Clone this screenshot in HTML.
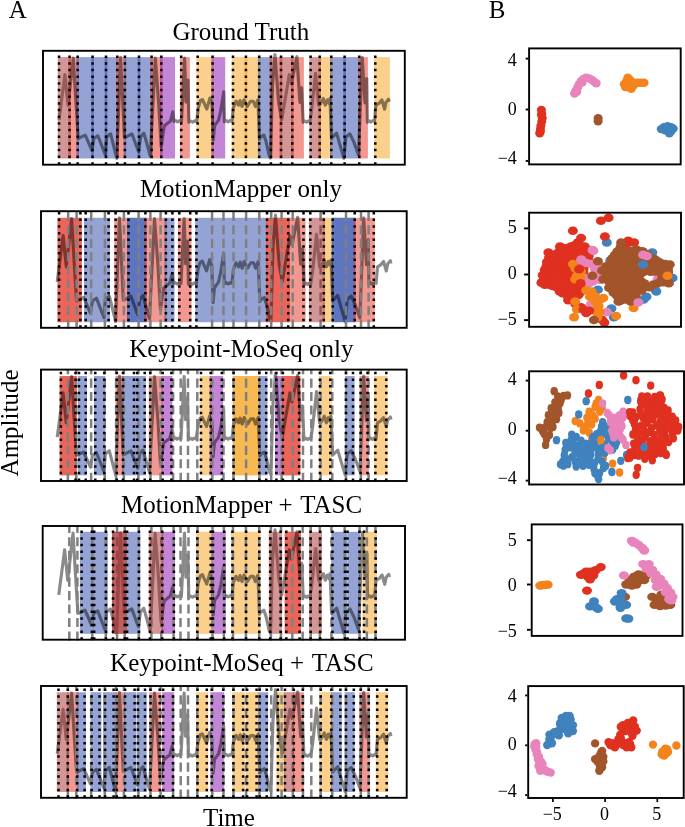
<!DOCTYPE html>
<html><head><meta charset="utf-8"><title>Figure</title><style>html,body{margin:0;padding:0;background:#fff}</style></head><body>
<svg width="685" height="827" viewBox="0 0 685 827" style="display:block;will-change:transform;font-family:'Liberation Serif',serif">
<rect width="685" height="827" fill="#fff"/>
<g>
<rect x="68.26" y="57.1" width="10.71" height="101.40" fill="#e63223" fill-opacity="0.5"/>
<rect x="76.37" y="57.1" width="17.49" height="101.40" fill="#2947a9" fill-opacity="0.5"/>
<rect x="91.26" y="57.1" width="16.04" height="101.40" fill="#2947a9" fill-opacity="0.5"/>
<rect x="104.70" y="57.1" width="13.90" height="101.40" fill="#2947a9" fill-opacity="0.5"/>
<rect x="116.00" y="57.1" width="10.20" height="101.40" fill="#e63223" fill-opacity="0.5"/>
<rect x="123.60" y="57.1" width="16.70" height="101.40" fill="#2947a9" fill-opacity="0.5"/>
<rect x="137.70" y="57.1" width="15.20" height="101.40" fill="#2947a9" fill-opacity="0.5"/>
<rect x="150.30" y="57.1" width="12.30" height="101.40" fill="#e63223" fill-opacity="0.5"/>
<rect x="160.00" y="57.1" width="15.00" height="101.40" fill="#870bad" fill-opacity="0.5"/>
<rect x="179.90" y="57.1" width="10.00" height="101.40" fill="#e63223" fill-opacity="0.5"/>
<rect x="196.40" y="57.1" width="17.50" height="101.40" fill="#f5a119" fill-opacity="0.5"/>
<rect x="211.30" y="57.1" width="13.90" height="101.40" fill="#870bad" fill-opacity="0.5"/>
<rect x="231.70" y="57.1" width="15.50" height="101.40" fill="#f5a119" fill-opacity="0.5"/>
<rect x="244.60" y="57.1" width="15.90" height="101.40" fill="#f5a119" fill-opacity="0.5"/>
<rect x="257.90" y="57.1" width="14.30" height="101.40" fill="#2947a9" fill-opacity="0.5"/>
<rect x="269.60" y="57.1" width="12.70" height="101.40" fill="#e63223" fill-opacity="0.5"/>
<rect x="291.00" y="57.1" width="12.90" height="101.40" fill="#e63223" fill-opacity="0.5"/>
<rect x="318.40" y="57.1" width="14.20" height="101.40" fill="#f5a119" fill-opacity="0.5"/>
<rect x="330.00" y="57.1" width="15.90" height="101.40" fill="#2947a9" fill-opacity="0.5"/>
<rect x="343.30" y="57.1" width="17.30" height="101.40" fill="#2947a9" fill-opacity="0.5"/>
<rect x="358.00" y="57.1" width="9.90" height="101.40" fill="#e63223" fill-opacity="0.5"/>
<rect x="374.00" y="57.1" width="15.90" height="101.40" fill="#f5a119" fill-opacity="0.5"/>
<polyline points="59.05,119.80 64.90,74.60 68.00,105.20 73.30,58.00 76.00,104.00 78.20,138.40 78.80,138.20 85.25,135.10 91.90,150.40 93.90,138.40 97.90,135.80 105.30,154.80 106.60,137.10 110.60,133.80 116.80,158.40 120.60,57.30 124.40,137.50 125.90,137.10 131.90,133.80 138.60,151.70 140.60,137.10 143.90,133.10 150.30,156.00 155.30,58.00 158.60,102.50 161.20,147.00 163.40,131.40 164.30,126.00 168.10,122.80 170.40,121.20 172.80,111.80 174.00,121.40 175.80,120.60 177.60,121.90 179.40,120.70 181.50,121.40 184.60,58.00 186.00,102.00 188.00,80.00 188.90,122.30 190.80,121.00 192.70,122.20 194.60,120.90 196.60,121.80 198.30,108.00 200.50,100.50 202.50,99.60 206.80,109.00 209.90,98.10 212.00,104.00 213.20,140.00 214.60,125.60 218.60,120.10 220.90,109.90 223.70,91.80 224.40,121.70 226.30,120.60 228.20,121.90 230.10,120.70 232.00,121.30 233.30,107.90 236.00,101.20 238.60,105.20 240.00,100.50 242.00,106.50 244.00,99.90 245.90,104.00 247.30,106.50 250.60,101.20 253.30,101.20 255.30,106.50 257.90,99.90 259.50,139.10 260.60,137.10 263.90,135.10 265.90,141.10 269.20,155.70 270.50,158.00 272.50,85.20 275.00,54.70 278.60,102.50 281.70,119.80 289.30,74.60 291.30,83.90 296.90,56.70 299.90,102.50 301.60,87.90 303.20,122.30 305.00,121.00 306.70,122.30 308.40,121.00 309.90,121.80 311.90,107.90 315.60,73.30 318.60,105.20 320.60,103.90 323.30,98.50 325.30,105.20 327.30,99.90 329.30,103.90 330.00,98.50 331.50,138.40 332.60,137.10 336.60,133.10 340.00,145.10 343.90,158.40 345.90,137.10 349.90,133.80 354.00,142.40 358.50,155.00 362.20,57.30 365.00,103.00 366.80,78.60 367.40,122.30 369.20,120.80 371.00,122.10 372.80,120.70 374.50,121.30 375.90,105.20 379.20,103.20 381.90,99.90 384.60,109.20 385.90,102.50 388.60,99.20 389.20,101.90" fill="none" stroke="#000" stroke-opacity="0.46" stroke-width="3.15" stroke-linejoin="round" stroke-linecap="butt"/>
<rect x="57.75" y="57.1" width="13.11" height="101.40" fill="#a72d2d" fill-opacity="0.5"/>
<rect x="279.70" y="57.1" width="13.90" height="101.40" fill="#a72d2d" fill-opacity="0.5"/>
<rect x="309.30" y="57.1" width="11.70" height="101.40" fill="#a72d2d" fill-opacity="0.5"/>
<line x1="59.05" y1="164.7" x2="59.05" y2="50.8" stroke="#000" stroke-width="2.5" stroke-dasharray="2.5 4.17"/>
<line x1="69.56" y1="164.7" x2="69.56" y2="50.8" stroke="#000" stroke-width="2.5" stroke-dasharray="2.5 4.17"/>
<line x1="77.67" y1="164.7" x2="77.67" y2="50.8" stroke="#000" stroke-width="2.5" stroke-dasharray="2.5 4.17"/>
<line x1="92.56" y1="164.7" x2="92.56" y2="50.8" stroke="#000" stroke-width="2.5" stroke-dasharray="2.5 4.17"/>
<line x1="106" y1="164.7" x2="106" y2="50.8" stroke="#000" stroke-width="2.5" stroke-dasharray="2.5 4.17"/>
<line x1="117.3" y1="164.7" x2="117.3" y2="50.8" stroke="#000" stroke-width="2.5" stroke-dasharray="2.5 4.17"/>
<line x1="124.9" y1="164.7" x2="124.9" y2="50.8" stroke="#000" stroke-width="2.5" stroke-dasharray="2.5 4.17"/>
<line x1="139" y1="164.7" x2="139" y2="50.8" stroke="#000" stroke-width="2.5" stroke-dasharray="2.5 4.17"/>
<line x1="151.6" y1="164.7" x2="151.6" y2="50.8" stroke="#000" stroke-width="2.5" stroke-dasharray="2.5 4.17"/>
<line x1="161.3" y1="164.7" x2="161.3" y2="50.8" stroke="#000" stroke-width="2.5" stroke-dasharray="2.5 4.17"/>
<line x1="181.2" y1="164.7" x2="181.2" y2="50.8" stroke="#000" stroke-width="2.5" stroke-dasharray="2.5 4.17"/>
<line x1="197.7" y1="164.7" x2="197.7" y2="50.8" stroke="#000" stroke-width="2.5" stroke-dasharray="2.5 4.17"/>
<line x1="212.6" y1="164.7" x2="212.6" y2="50.8" stroke="#000" stroke-width="2.5" stroke-dasharray="2.5 4.17"/>
<line x1="233" y1="164.7" x2="233" y2="50.8" stroke="#000" stroke-width="2.5" stroke-dasharray="2.5 4.17"/>
<line x1="245.9" y1="164.7" x2="245.9" y2="50.8" stroke="#000" stroke-width="2.5" stroke-dasharray="2.5 4.17"/>
<line x1="259.2" y1="164.7" x2="259.2" y2="50.8" stroke="#000" stroke-width="2.5" stroke-dasharray="2.5 4.17"/>
<line x1="270.9" y1="164.7" x2="270.9" y2="50.8" stroke="#000" stroke-width="2.5" stroke-dasharray="2.5 4.17"/>
<line x1="281" y1="164.7" x2="281" y2="50.8" stroke="#000" stroke-width="2.5" stroke-dasharray="2.5 4.17"/>
<line x1="292.3" y1="164.7" x2="292.3" y2="50.8" stroke="#000" stroke-width="2.5" stroke-dasharray="2.5 4.17"/>
<line x1="310.6" y1="164.7" x2="310.6" y2="50.8" stroke="#000" stroke-width="2.5" stroke-dasharray="2.5 4.17"/>
<line x1="319.7" y1="164.7" x2="319.7" y2="50.8" stroke="#000" stroke-width="2.5" stroke-dasharray="2.5 4.17"/>
<line x1="331.3" y1="164.7" x2="331.3" y2="50.8" stroke="#000" stroke-width="2.5" stroke-dasharray="2.5 4.17"/>
<line x1="344.6" y1="164.7" x2="344.6" y2="50.8" stroke="#000" stroke-width="2.5" stroke-dasharray="2.5 4.17"/>
<line x1="359.3" y1="164.7" x2="359.3" y2="50.8" stroke="#000" stroke-width="2.5" stroke-dasharray="2.5 4.17"/>
<line x1="375.3" y1="164.7" x2="375.3" y2="50.8" stroke="#000" stroke-width="2.5" stroke-dasharray="2.5 4.17"/>
<rect x="43" y="50.8" width="361.80" height="113.90" fill="none" stroke="#000" stroke-width="1.9"/>
</g>
<g>
<rect x="57.50" y="217.8" width="24.30" height="104.40" fill="#e63223" fill-opacity="0.5"/>
<rect x="57.50" y="217.8" width="24.30" height="104.40" fill="#e63223" fill-opacity="0.5"/>
<rect x="84.00" y="217.8" width="26.00" height="104.40" fill="#2947a9" fill-opacity="0.5"/>
<rect x="114.20" y="217.8" width="13.80" height="104.40" fill="#e63223" fill-opacity="0.5"/>
<rect x="127.30" y="217.8" width="19.20" height="104.40" fill="#2947a9" fill-opacity="0.5"/>
<rect x="127.30" y="217.8" width="19.20" height="104.40" fill="#2947a9" fill-opacity="0.5"/>
<rect x="144.50" y="217.8" width="22.00" height="104.40" fill="#e63223" fill-opacity="0.5"/>
<rect x="164.50" y="217.8" width="10.00" height="104.40" fill="#2947a9" fill-opacity="0.5"/>
<rect x="177.90" y="217.8" width="13.60" height="104.40" fill="#e63223" fill-opacity="0.5"/>
<rect x="195.20" y="217.8" width="71.30" height="104.40" fill="#2947a9" fill-opacity="0.5"/>
<rect x="266.00" y="217.8" width="23.60" height="104.40" fill="#e63223" fill-opacity="0.5"/>
<rect x="266.00" y="217.8" width="23.60" height="104.40" fill="#e63223" fill-opacity="0.5"/>
<rect x="288.50" y="217.8" width="17.10" height="104.40" fill="#e63223" fill-opacity="0.5"/>
<rect x="322.50" y="217.8" width="10.00" height="104.40" fill="#f5a119" fill-opacity="0.5"/>
<rect x="331.70" y="217.8" width="23.80" height="104.40" fill="#2947a9" fill-opacity="0.5"/>
<rect x="331.70" y="217.8" width="23.80" height="104.40" fill="#2947a9" fill-opacity="0.5"/>
<rect x="353.60" y="217.8" width="21.30" height="104.40" fill="#e63223" fill-opacity="0.5"/>
<polyline points="57.22,281.84 63.14,235.56 66.27,266.89 71.63,218.57 74.36,265.66 76.58,300.88 77.19,300.67 83.71,297.50 90.43,313.16 92.45,300.88 96.49,298.21 103.97,317.67 105.29,299.55 109.33,296.17 115.60,321.35 119.44,217.85 123.28,299.96 124.79,299.55 130.86,296.17 137.63,314.49 139.65,299.55 142.99,295.45 149.46,318.89 154.51,218.57 157.85,264.13 160.47,309.68 162.70,293.71 163.61,288.18 167.45,284.91 169.77,283.27 172.20,273.65 173.41,283.47 175.23,282.65 177.05,283.99 178.87,282.76 180.99,283.47 184.13,218.57 185.54,263.61 187.56,241.09 188.47,284.39 190.39,283.06 192.31,284.29 194.23,282.96 196.26,283.88 197.97,269.76 200.20,262.08 202.22,261.16 206.57,270.78 209.70,259.62 211.82,265.66 213.03,302.51 214.45,287.77 218.49,282.14 220.82,271.70 223.65,253.17 224.36,283.78 226.28,282.65 228.20,283.99 230.12,282.76 232.04,283.37 233.35,269.65 236.08,262.79 238.71,266.89 240.12,262.08 242.15,268.22 244.17,261.46 246.09,265.66 247.50,268.22 250.84,262.79 253.57,262.79 255.59,268.22 258.22,261.46 259.83,301.59 260.95,299.55 264.28,297.50 266.30,303.64 269.64,318.59 270.95,320.94 272.97,246.42 275.50,215.19 279.14,264.13 282.27,281.84 289.95,235.56 291.98,245.08 297.64,217.24 300.67,264.13 302.39,249.18 304.00,284.39 305.82,283.06 307.54,284.39 309.26,283.06 310.78,283.88 312.80,269.65 316.54,234.23 319.57,266.89 321.59,265.56 324.32,260.03 326.34,266.89 328.36,261.46 330.39,265.56 331.09,260.03 332.61,300.88 333.72,299.55 337.76,295.45 341.20,307.74 345.14,321.35 347.17,299.55 351.21,296.17 355.35,304.97 359.90,317.87 363.64,217.85 366.47,264.64 368.29,239.66 368.90,284.39 370.72,282.86 372.54,284.19 374.36,282.76 376.07,283.37 377.49,266.89 380.82,264.84 383.55,261.46 386.28,270.98 387.60,264.13 390.33,260.75 390.93,263.51" fill="none" stroke="#000" stroke-opacity="0.46" stroke-width="3.15" stroke-linejoin="round" stroke-linecap="butt"/>
<line x1="68.2" y1="328.60" x2="68.2" y2="211.2" stroke="#808080" stroke-width="2.5" stroke-dasharray="9.1 4.35"/>
<line x1="76.6" y1="328.60" x2="76.6" y2="211.2" stroke="#808080" stroke-width="2.5" stroke-dasharray="9.1 4.35"/>
<line x1="91.2" y1="328.60" x2="91.2" y2="211.2" stroke="#808080" stroke-width="2.5" stroke-dasharray="9.1 4.35"/>
<line x1="104.9" y1="328.60" x2="104.9" y2="211.2" stroke="#808080" stroke-width="2.5" stroke-dasharray="9.1 4.35"/>
<line x1="123.9" y1="328.60" x2="123.9" y2="211.2" stroke="#808080" stroke-width="2.5" stroke-dasharray="9.1 4.35"/>
<line x1="138.6" y1="328.60" x2="138.6" y2="211.2" stroke="#808080" stroke-width="2.5" stroke-dasharray="9.1 4.35"/>
<line x1="150.4" y1="328.60" x2="150.4" y2="211.2" stroke="#808080" stroke-width="2.5" stroke-dasharray="9.1 4.35"/>
<line x1="160.6" y1="328.60" x2="160.6" y2="211.2" stroke="#808080" stroke-width="2.5" stroke-dasharray="9.1 4.35"/>
<line x1="212.1" y1="328.60" x2="212.1" y2="211.2" stroke="#808080" stroke-width="2.5" stroke-dasharray="9.1 4.35"/>
<line x1="223.5" y1="328.60" x2="223.5" y2="211.2" stroke="#808080" stroke-width="2.5" stroke-dasharray="9.1 4.35"/>
<line x1="233.5" y1="328.60" x2="233.5" y2="211.2" stroke="#808080" stroke-width="2.5" stroke-dasharray="9.1 4.35"/>
<line x1="246.1" y1="328.60" x2="246.1" y2="211.2" stroke="#808080" stroke-width="2.5" stroke-dasharray="9.1 4.35"/>
<line x1="259.3" y1="328.60" x2="259.3" y2="211.2" stroke="#808080" stroke-width="2.5" stroke-dasharray="9.1 4.35"/>
<line x1="271.2" y1="328.60" x2="271.2" y2="211.2" stroke="#808080" stroke-width="2.5" stroke-dasharray="9.1 4.35"/>
<line x1="281.6" y1="328.60" x2="281.6" y2="211.2" stroke="#808080" stroke-width="2.5" stroke-dasharray="9.1 4.35"/>
<line x1="292.7" y1="328.60" x2="292.7" y2="211.2" stroke="#808080" stroke-width="2.5" stroke-dasharray="9.1 4.35"/>
<line x1="320.6" y1="328.60" x2="320.6" y2="211.2" stroke="#808080" stroke-width="2.5" stroke-dasharray="9.1 4.35"/>
<line x1="346" y1="328.60" x2="346" y2="211.2" stroke="#808080" stroke-width="2.5" stroke-dasharray="9.1 4.35"/>
<line x1="361" y1="328.60" x2="361" y2="211.2" stroke="#808080" stroke-width="2.5" stroke-dasharray="9.1 4.35"/>
<line x1="368.6" y1="328.60" x2="368.6" y2="211.2" stroke="#808080" stroke-width="2.5" stroke-dasharray="9.1 4.35"/>
<rect x="308.80" y="217.8" width="16.20" height="104.40" fill="#a72d2d" fill-opacity="0.5"/>
<line x1="59.1" y1="327.8" x2="59.1" y2="211.2" stroke="#000" stroke-width="2.5" stroke-dasharray="2.5 4.17"/>
<line x1="80.4" y1="327.8" x2="80.4" y2="211.2" stroke="#000" stroke-width="2.5" stroke-dasharray="2.5 4.17"/>
<line x1="85.7" y1="327.8" x2="85.7" y2="211.2" stroke="#000" stroke-width="2.5" stroke-dasharray="2.5 4.17"/>
<line x1="108.6" y1="327.8" x2="108.6" y2="211.2" stroke="#000" stroke-width="2.5" stroke-dasharray="2.5 4.17"/>
<line x1="115.6" y1="327.8" x2="115.6" y2="211.2" stroke="#000" stroke-width="2.5" stroke-dasharray="2.5 4.17"/>
<line x1="128.5" y1="327.8" x2="128.5" y2="211.2" stroke="#000" stroke-width="2.5" stroke-dasharray="2.5 4.17"/>
<line x1="145.4" y1="327.8" x2="145.4" y2="211.2" stroke="#000" stroke-width="2.5" stroke-dasharray="2.5 4.17"/>
<line x1="165.9" y1="327.8" x2="165.9" y2="211.2" stroke="#000" stroke-width="2.5" stroke-dasharray="2.5 4.17"/>
<line x1="172.4" y1="327.8" x2="172.4" y2="211.2" stroke="#000" stroke-width="2.5" stroke-dasharray="2.5 4.17"/>
<line x1="179.3" y1="327.8" x2="179.3" y2="211.2" stroke="#000" stroke-width="2.5" stroke-dasharray="2.5 4.17"/>
<line x1="190.2" y1="327.8" x2="190.2" y2="211.2" stroke="#000" stroke-width="2.5" stroke-dasharray="2.5 4.17"/>
<line x1="196.4" y1="327.8" x2="196.4" y2="211.2" stroke="#000" stroke-width="2.5" stroke-dasharray="2.5 4.17"/>
<line x1="267" y1="327.8" x2="267" y2="211.2" stroke="#000" stroke-width="2.5" stroke-dasharray="2.5 4.17"/>
<line x1="288.2" y1="327.8" x2="288.2" y2="211.2" stroke="#000" stroke-width="2.5" stroke-dasharray="2.5 4.17"/>
<line x1="303.5" y1="327.8" x2="303.5" y2="211.2" stroke="#000" stroke-width="2.5" stroke-dasharray="2.5 4.17"/>
<line x1="310.3" y1="327.8" x2="310.3" y2="211.2" stroke="#000" stroke-width="2.5" stroke-dasharray="2.5 4.17"/>
<line x1="323.8" y1="327.8" x2="323.8" y2="211.2" stroke="#000" stroke-width="2.5" stroke-dasharray="2.5 4.17"/>
<line x1="332.7" y1="327.8" x2="332.7" y2="211.2" stroke="#000" stroke-width="2.5" stroke-dasharray="2.5 4.17"/>
<line x1="354.7" y1="327.8" x2="354.7" y2="211.2" stroke="#000" stroke-width="2.5" stroke-dasharray="2.5 4.17"/>
<line x1="373.8" y1="327.8" x2="373.8" y2="211.2" stroke="#000" stroke-width="2.5" stroke-dasharray="2.5 4.17"/>
<rect x="41" y="211.2" width="365.70" height="116.60" fill="none" stroke="#000" stroke-width="1.9"/>
</g>
<g>
<rect x="59.60" y="376" width="17.30" height="99.30" fill="#e63223" fill-opacity="0.5"/>
<rect x="59.60" y="376" width="17.30" height="99.30" fill="#e63223" fill-opacity="0.5"/>
<rect x="77.90" y="376" width="9.10" height="99.30" fill="#2947a9" fill-opacity="0.5"/>
<rect x="93.90" y="376" width="11.50" height="99.30" fill="#2947a9" fill-opacity="0.5"/>
<rect x="115.40" y="376" width="8.40" height="99.30" fill="#e63223" fill-opacity="0.5"/>
<rect x="122.00" y="376" width="23.80" height="99.30" fill="#2947a9" fill-opacity="0.5"/>
<rect x="148.80" y="376" width="13.70" height="99.30" fill="#e63223" fill-opacity="0.5"/>
<rect x="161.50" y="376" width="10.90" height="99.30" fill="#870bad" fill-opacity="0.5"/>
<rect x="199.90" y="376" width="11.60" height="99.30" fill="#f5a119" fill-opacity="0.5"/>
<rect x="209.70" y="376" width="13.50" height="99.30" fill="#870bad" fill-opacity="0.5"/>
<rect x="232.70" y="376" width="26.80" height="99.30" fill="#f5a119" fill-opacity="0.5"/>
<rect x="232.70" y="376" width="26.80" height="99.30" fill="#f5a119" fill-opacity="0.5"/>
<rect x="258.80" y="376" width="8.60" height="99.30" fill="#2947a9" fill-opacity="0.5"/>
<rect x="275.00" y="376" width="8.00" height="99.30" fill="#870bad" fill-opacity="0.5"/>
<rect x="282.00" y="376" width="18.40" height="99.30" fill="#e63223" fill-opacity="0.5"/>
<rect x="282.00" y="376" width="18.40" height="99.30" fill="#e63223" fill-opacity="0.5"/>
<rect x="318.80" y="376" width="12.90" height="99.30" fill="#f5a119" fill-opacity="0.5"/>
<rect x="344.90" y="376" width="9.70" height="99.30" fill="#2947a9" fill-opacity="0.5"/>
<rect x="359.60" y="376" width="9.30" height="99.30" fill="#e63223" fill-opacity="0.5"/>
<rect x="374.00" y="376" width="13.70" height="99.30" fill="#f5a119" fill-opacity="0.5"/>
<polyline points="57.22,437.09 63.14,392.88 66.27,422.81 71.63,376.64 74.36,421.63 76.58,455.28 77.19,455.08 83.71,452.05 90.43,467.01 92.45,455.28 96.49,452.73 103.97,471.32 105.29,454.01 109.33,450.78 115.60,474.84 119.44,375.96 123.28,454.40 124.79,454.01 130.86,450.78 137.63,468.29 139.65,454.01 142.99,450.09 149.46,472.49 154.51,376.64 157.85,420.17 160.47,463.69 162.70,448.43 163.61,443.15 167.45,440.02 169.77,438.45 172.20,429.26 173.41,438.65 175.23,437.87 177.05,439.14 178.87,437.97 180.99,438.65 184.13,376.64 185.54,419.68 187.56,398.16 188.47,439.53 190.39,438.26 192.31,439.43 194.23,438.16 196.26,439.04 197.97,425.54 200.20,418.21 202.22,417.33 206.57,426.52 209.70,415.86 211.82,421.63 213.03,456.84 214.45,442.76 218.49,437.38 220.82,427.40 223.65,409.70 224.36,438.94 226.28,437.87 228.20,439.14 230.12,437.97 232.04,438.55 233.35,425.45 236.08,418.89 238.71,422.81 240.12,418.21 242.15,424.08 244.17,417.62 246.09,421.63 247.50,424.08 250.84,418.89 253.57,418.89 255.59,424.08 258.22,417.62 259.83,455.96 260.95,454.01 264.28,452.05 266.30,457.92 269.64,472.20 270.95,474.45 272.97,403.24 275.50,373.41 279.14,420.17 282.27,437.09 289.95,392.88 291.98,401.97 297.64,375.37 300.67,420.17 302.39,405.89 304.00,439.53 305.82,438.26 307.54,439.53 309.26,438.26 310.78,439.04 312.80,425.45 316.54,391.61 319.57,422.81 321.59,421.53 324.32,416.25 326.34,422.81 328.36,417.62 330.39,421.53 331.09,416.25 332.61,455.28 333.72,454.01 337.76,450.09 341.20,461.83 345.14,474.84 347.17,454.01 351.21,450.78 355.35,459.19 359.90,471.51 363.64,375.96 366.47,420.65 368.29,396.79 368.90,439.53 370.72,438.06 372.54,439.34 374.36,437.97 376.07,438.55 377.49,422.81 380.82,420.85 383.55,417.62 386.28,426.72 387.60,420.17 390.33,416.94 390.93,419.58" fill="none" stroke="#000" stroke-opacity="0.46" stroke-width="3.15" stroke-linejoin="round" stroke-linecap="butt"/>
<line x1="67.85" y1="481.80" x2="67.85" y2="369.6" stroke="#808080" stroke-width="2.5" stroke-dasharray="9.1 4.35"/>
<line x1="76.3" y1="481.80" x2="76.3" y2="369.6" stroke="#808080" stroke-width="2.5" stroke-dasharray="9.1 4.35"/>
<line x1="91.15" y1="481.80" x2="91.15" y2="369.6" stroke="#808080" stroke-width="2.5" stroke-dasharray="9.1 4.35"/>
<line x1="104.8" y1="481.80" x2="104.8" y2="369.6" stroke="#808080" stroke-width="2.5" stroke-dasharray="9.1 4.35"/>
<line x1="116.1" y1="481.80" x2="116.1" y2="369.6" stroke="#808080" stroke-width="2.5" stroke-dasharray="9.1 4.35"/>
<line x1="123.85" y1="481.80" x2="123.85" y2="369.6" stroke="#808080" stroke-width="2.5" stroke-dasharray="9.1 4.35"/>
<line x1="138.4" y1="481.80" x2="138.4" y2="369.6" stroke="#808080" stroke-width="2.5" stroke-dasharray="9.1 4.35"/>
<line x1="150.5" y1="481.80" x2="150.5" y2="369.6" stroke="#808080" stroke-width="2.5" stroke-dasharray="9.1 4.35"/>
<line x1="160.6" y1="481.80" x2="160.6" y2="369.6" stroke="#808080" stroke-width="2.5" stroke-dasharray="9.1 4.35"/>
<line x1="173.1" y1="481.80" x2="173.1" y2="369.6" stroke="#808080" stroke-width="2.5" stroke-dasharray="9.1 4.35"/>
<line x1="180.7" y1="481.80" x2="180.7" y2="369.6" stroke="#808080" stroke-width="2.5" stroke-dasharray="9.1 4.35"/>
<line x1="188" y1="481.80" x2="188" y2="369.6" stroke="#808080" stroke-width="2.5" stroke-dasharray="9.1 4.35"/>
<line x1="197.3" y1="481.80" x2="197.3" y2="369.6" stroke="#808080" stroke-width="2.5" stroke-dasharray="9.1 4.35"/>
<line x1="212.3" y1="481.80" x2="212.3" y2="369.6" stroke="#808080" stroke-width="2.5" stroke-dasharray="9.1 4.35"/>
<line x1="223.5" y1="481.80" x2="223.5" y2="369.6" stroke="#808080" stroke-width="2.5" stroke-dasharray="9.1 4.35"/>
<line x1="233.5" y1="481.80" x2="233.5" y2="369.6" stroke="#808080" stroke-width="2.5" stroke-dasharray="9.1 4.35"/>
<line x1="246.1" y1="481.80" x2="246.1" y2="369.6" stroke="#808080" stroke-width="2.5" stroke-dasharray="9.1 4.35"/>
<line x1="259.4" y1="481.80" x2="259.4" y2="369.6" stroke="#808080" stroke-width="2.5" stroke-dasharray="9.1 4.35"/>
<line x1="271.2" y1="481.80" x2="271.2" y2="369.6" stroke="#808080" stroke-width="2.5" stroke-dasharray="9.1 4.35"/>
<line x1="281.6" y1="481.80" x2="281.6" y2="369.6" stroke="#808080" stroke-width="2.5" stroke-dasharray="9.1 4.35"/>
<line x1="292.8" y1="481.80" x2="292.8" y2="369.6" stroke="#808080" stroke-width="2.5" stroke-dasharray="9.1 4.35"/>
<line x1="303" y1="481.80" x2="303" y2="369.6" stroke="#808080" stroke-width="2.5" stroke-dasharray="9.1 4.35"/>
<line x1="311.3" y1="481.80" x2="311.3" y2="369.6" stroke="#808080" stroke-width="2.5" stroke-dasharray="9.1 4.35"/>
<line x1="320.65" y1="481.80" x2="320.65" y2="369.6" stroke="#808080" stroke-width="2.5" stroke-dasharray="9.1 4.35"/>
<line x1="332.3" y1="481.80" x2="332.3" y2="369.6" stroke="#808080" stroke-width="2.5" stroke-dasharray="9.1 4.35"/>
<line x1="345.95" y1="481.80" x2="345.95" y2="369.6" stroke="#808080" stroke-width="2.5" stroke-dasharray="9.1 4.35"/>
<line x1="360.9" y1="481.80" x2="360.9" y2="369.6" stroke="#808080" stroke-width="2.5" stroke-dasharray="9.1 4.35"/>
<line x1="368.6" y1="481.80" x2="368.6" y2="369.6" stroke="#808080" stroke-width="2.5" stroke-dasharray="9.1 4.35"/>
<line x1="60.9" y1="481" x2="60.9" y2="369.6" stroke="#000" stroke-width="2.5" stroke-dasharray="2.5 4.17"/>
<line x1="75.5" y1="481" x2="75.5" y2="369.6" stroke="#000" stroke-width="2.5" stroke-dasharray="2.5 4.17"/>
<line x1="79" y1="481" x2="79" y2="369.6" stroke="#000" stroke-width="2.5" stroke-dasharray="2.5 4.17"/>
<line x1="85.7" y1="481" x2="85.7" y2="369.6" stroke="#000" stroke-width="2.5" stroke-dasharray="2.5 4.17"/>
<line x1="95.3" y1="481" x2="95.3" y2="369.6" stroke="#000" stroke-width="2.5" stroke-dasharray="2.5 4.17"/>
<line x1="104.3" y1="481" x2="104.3" y2="369.6" stroke="#000" stroke-width="2.5" stroke-dasharray="2.5 4.17"/>
<line x1="116.8" y1="481" x2="116.8" y2="369.6" stroke="#000" stroke-width="2.5" stroke-dasharray="2.5 4.17"/>
<line x1="123" y1="481" x2="123" y2="369.6" stroke="#000" stroke-width="2.5" stroke-dasharray="2.5 4.17"/>
<line x1="134" y1="481" x2="134" y2="369.6" stroke="#000" stroke-width="2.5" stroke-dasharray="2.5 4.17"/>
<line x1="137.2" y1="481" x2="137.2" y2="369.6" stroke="#000" stroke-width="2.5" stroke-dasharray="2.5 4.17"/>
<line x1="144.7" y1="481" x2="144.7" y2="369.6" stroke="#000" stroke-width="2.5" stroke-dasharray="2.5 4.17"/>
<line x1="150.2" y1="481" x2="150.2" y2="369.6" stroke="#000" stroke-width="2.5" stroke-dasharray="2.5 4.17"/>
<line x1="162.7" y1="481" x2="162.7" y2="369.6" stroke="#000" stroke-width="2.5" stroke-dasharray="2.5 4.17"/>
<line x1="171.4" y1="481" x2="171.4" y2="369.6" stroke="#000" stroke-width="2.5" stroke-dasharray="2.5 4.17"/>
<line x1="201" y1="481" x2="201" y2="369.6" stroke="#000" stroke-width="2.5" stroke-dasharray="2.5 4.17"/>
<line x1="210.7" y1="481" x2="210.7" y2="369.6" stroke="#000" stroke-width="2.5" stroke-dasharray="2.5 4.17"/>
<line x1="221.8" y1="481" x2="221.8" y2="369.6" stroke="#000" stroke-width="2.5" stroke-dasharray="2.5 4.17"/>
<line x1="233.6" y1="481" x2="233.6" y2="369.6" stroke="#000" stroke-width="2.5" stroke-dasharray="2.5 4.17"/>
<line x1="259.3" y1="481" x2="259.3" y2="369.6" stroke="#000" stroke-width="2.5" stroke-dasharray="2.5 4.17"/>
<line x1="266.2" y1="481" x2="266.2" y2="369.6" stroke="#000" stroke-width="2.5" stroke-dasharray="2.5 4.17"/>
<line x1="276.4" y1="481" x2="276.4" y2="369.6" stroke="#000" stroke-width="2.5" stroke-dasharray="2.5 4.17"/>
<line x1="282.9" y1="481" x2="282.9" y2="369.6" stroke="#000" stroke-width="2.5" stroke-dasharray="2.5 4.17"/>
<line x1="299.1" y1="481" x2="299.1" y2="369.6" stroke="#000" stroke-width="2.5" stroke-dasharray="2.5 4.17"/>
<line x1="319.9" y1="481" x2="319.9" y2="369.6" stroke="#000" stroke-width="2.5" stroke-dasharray="2.5 4.17"/>
<line x1="330.3" y1="481" x2="330.3" y2="369.6" stroke="#000" stroke-width="2.5" stroke-dasharray="2.5 4.17"/>
<line x1="346" y1="481" x2="346" y2="369.6" stroke="#000" stroke-width="2.5" stroke-dasharray="2.5 4.17"/>
<line x1="353" y1="481" x2="353" y2="369.6" stroke="#000" stroke-width="2.5" stroke-dasharray="2.5 4.17"/>
<line x1="360.6" y1="481" x2="360.6" y2="369.6" stroke="#000" stroke-width="2.5" stroke-dasharray="2.5 4.17"/>
<line x1="367.5" y1="481" x2="367.5" y2="369.6" stroke="#000" stroke-width="2.5" stroke-dasharray="2.5 4.17"/>
<line x1="375.4" y1="481" x2="375.4" y2="369.6" stroke="#000" stroke-width="2.5" stroke-dasharray="2.5 4.17"/>
<line x1="386.3" y1="481" x2="386.3" y2="369.6" stroke="#000" stroke-width="2.5" stroke-dasharray="2.5 4.17"/>
<rect x="41" y="369.6" width="365.70" height="111.40" fill="none" stroke="#000" stroke-width="1.9"/>
</g>
<g>
<rect x="79.90" y="531.8" width="13.30" height="102.00" fill="#2947a9" fill-opacity="0.5"/>
<rect x="92.80" y="531.8" width="15.00" height="102.00" fill="#2947a9" fill-opacity="0.5"/>
<rect x="126.00" y="531.8" width="14.40" height="102.00" fill="#2947a9" fill-opacity="0.5"/>
<rect x="161.50" y="531.8" width="13.50" height="102.00" fill="#870bad" fill-opacity="0.5"/>
<rect x="195.90" y="531.8" width="16.60" height="102.00" fill="#f5a119" fill-opacity="0.5"/>
<rect x="211.30" y="531.8" width="14.60" height="102.00" fill="#870bad" fill-opacity="0.5"/>
<rect x="231.00" y="531.8" width="15.80" height="102.00" fill="#f5a119" fill-opacity="0.5"/>
<rect x="245.40" y="531.8" width="15.30" height="102.00" fill="#f5a119" fill-opacity="0.5"/>
<rect x="284.70" y="531.8" width="16.30" height="102.00" fill="#e63223" fill-opacity="0.5"/>
<rect x="284.70" y="531.8" width="16.30" height="102.00" fill="#e63223" fill-opacity="0.5"/>
<rect x="331.20" y="531.8" width="15.80" height="102.00" fill="#2947a9" fill-opacity="0.5"/>
<rect x="347.30" y="531.8" width="12.90" height="102.00" fill="#2947a9" fill-opacity="0.5"/>
<rect x="362.50" y="531.8" width="14.40" height="102.00" fill="#f5a119" fill-opacity="0.5"/>
<polyline points="58.77,594.88 64.63,549.76 67.73,580.30 73.04,533.19 75.75,579.11 77.95,613.45 78.55,613.25 85.01,610.15 91.67,625.43 93.67,613.45 97.68,610.85 105.09,629.82 106.39,612.15 110.39,608.85 116.60,633.41 120.41,532.49 124.21,612.55 125.71,612.15 131.72,608.85 138.43,626.72 140.43,612.15 143.74,608.16 150.15,631.02 155.16,533.19 158.46,577.61 161.06,622.03 163.27,606.46 164.17,601.07 167.97,597.87 170.28,596.28 172.68,586.89 173.88,596.48 175.68,595.68 177.49,596.98 179.29,595.78 181.39,596.48 184.50,533.19 185.90,577.11 187.90,555.15 188.80,597.37 190.70,596.08 192.61,597.27 194.51,595.98 196.51,596.88 198.21,583.10 200.42,575.61 202.42,574.71 206.73,584.10 209.83,573.22 211.93,579.11 213.14,615.04 214.54,600.67 218.54,595.18 220.85,585.00 223.65,566.93 224.35,596.78 226.25,595.68 228.16,596.98 230.06,595.78 231.96,596.38 233.26,583.00 235.97,576.31 238.57,580.30 239.97,575.61 241.98,581.60 243.98,575.01 245.88,579.11 247.28,581.60 250.59,576.31 253.29,576.31 255.29,581.60 257.90,575.01 259.50,614.14 260.60,612.15 263.91,610.15 265.91,616.14 269.21,630.72 270.51,633.01 272.52,560.34 275.02,529.89 278.63,577.61 281.73,594.88 289.34,549.76 291.34,559.04 296.95,531.89 299.96,577.61 301.66,563.03 303.26,597.37 305.06,596.08 306.76,597.37 308.47,596.08 309.97,596.88 311.97,583.00 315.68,548.46 318.68,580.30 320.68,579.01 323.39,573.62 325.39,580.30 327.39,575.01 329.40,579.01 330.10,573.62 331.60,613.45 332.70,612.15 336.71,608.16 340.11,620.13 344.02,633.41 346.02,612.15 350.02,608.85 354.13,617.44 358.64,630.02 362.34,532.49 365.14,578.11 366.95,553.75 367.55,597.37 369.35,595.88 371.15,597.17 372.96,595.78 374.66,596.38 376.06,580.30 379.36,578.31 382.07,575.01 384.77,584.30 386.07,577.61 388.78,574.32 389.38,577.01" fill="none" stroke="#000" stroke-opacity="0.46" stroke-width="3.15" stroke-linejoin="round" stroke-linecap="butt"/>
<line x1="69.3" y1="640.50" x2="69.3" y2="526" stroke="#808080" stroke-width="2.5" stroke-dasharray="9.1 4.35"/>
<line x1="77.4" y1="640.50" x2="77.4" y2="526" stroke="#808080" stroke-width="2.5" stroke-dasharray="9.1 4.35"/>
<line x1="92.3" y1="640.50" x2="92.3" y2="526" stroke="#808080" stroke-width="2.5" stroke-dasharray="9.1 4.35"/>
<line x1="105.8" y1="640.50" x2="105.8" y2="526" stroke="#808080" stroke-width="2.5" stroke-dasharray="9.1 4.35"/>
<line x1="117.1" y1="640.50" x2="117.1" y2="526" stroke="#808080" stroke-width="2.5" stroke-dasharray="9.1 4.35"/>
<line x1="124.7" y1="640.50" x2="124.7" y2="526" stroke="#808080" stroke-width="2.5" stroke-dasharray="9.1 4.35"/>
<line x1="138.8" y1="640.50" x2="138.8" y2="526" stroke="#808080" stroke-width="2.5" stroke-dasharray="9.1 4.35"/>
<line x1="151.4" y1="640.50" x2="151.4" y2="526" stroke="#808080" stroke-width="2.5" stroke-dasharray="9.1 4.35"/>
<line x1="161.2" y1="640.50" x2="161.2" y2="526" stroke="#808080" stroke-width="2.5" stroke-dasharray="9.1 4.35"/>
<line x1="173.6" y1="640.50" x2="173.6" y2="526" stroke="#808080" stroke-width="2.5" stroke-dasharray="9.1 4.35"/>
<line x1="180.5" y1="640.50" x2="180.5" y2="526" stroke="#808080" stroke-width="2.5" stroke-dasharray="9.1 4.35"/>
<line x1="188.5" y1="640.50" x2="188.5" y2="526" stroke="#808080" stroke-width="2.5" stroke-dasharray="9.1 4.35"/>
<line x1="197.6" y1="640.50" x2="197.6" y2="526" stroke="#808080" stroke-width="2.5" stroke-dasharray="9.1 4.35"/>
<line x1="212.5" y1="640.50" x2="212.5" y2="526" stroke="#808080" stroke-width="2.5" stroke-dasharray="9.1 4.35"/>
<line x1="223.85" y1="640.50" x2="223.85" y2="526" stroke="#808080" stroke-width="2.5" stroke-dasharray="9.1 4.35"/>
<line x1="233" y1="640.50" x2="233" y2="526" stroke="#808080" stroke-width="2.5" stroke-dasharray="9.1 4.35"/>
<line x1="245.9" y1="640.50" x2="245.9" y2="526" stroke="#808080" stroke-width="2.5" stroke-dasharray="9.1 4.35"/>
<line x1="259.2" y1="640.50" x2="259.2" y2="526" stroke="#808080" stroke-width="2.5" stroke-dasharray="9.1 4.35"/>
<line x1="270.9" y1="640.50" x2="270.9" y2="526" stroke="#808080" stroke-width="2.5" stroke-dasharray="9.1 4.35"/>
<line x1="281" y1="640.50" x2="281" y2="526" stroke="#808080" stroke-width="2.5" stroke-dasharray="9.1 4.35"/>
<line x1="292.35" y1="640.50" x2="292.35" y2="526" stroke="#808080" stroke-width="2.5" stroke-dasharray="9.1 4.35"/>
<line x1="302.65" y1="640.50" x2="302.65" y2="526" stroke="#808080" stroke-width="2.5" stroke-dasharray="9.1 4.35"/>
<line x1="310.7" y1="640.50" x2="310.7" y2="526" stroke="#808080" stroke-width="2.5" stroke-dasharray="9.1 4.35"/>
<line x1="319.8" y1="640.50" x2="319.8" y2="526" stroke="#808080" stroke-width="2.5" stroke-dasharray="9.1 4.35"/>
<line x1="331.4" y1="640.50" x2="331.4" y2="526" stroke="#808080" stroke-width="2.5" stroke-dasharray="9.1 4.35"/>
<line x1="344.7" y1="640.50" x2="344.7" y2="526" stroke="#808080" stroke-width="2.5" stroke-dasharray="9.1 4.35"/>
<line x1="359.6" y1="640.50" x2="359.6" y2="526" stroke="#808080" stroke-width="2.5" stroke-dasharray="9.1 4.35"/>
<line x1="366.9" y1="640.50" x2="366.9" y2="526" stroke="#808080" stroke-width="2.5" stroke-dasharray="9.1 4.35"/>
<line x1="375.5" y1="640.50" x2="375.5" y2="526" stroke="#808080" stroke-width="2.5" stroke-dasharray="9.1 4.35"/>
<rect x="112.00" y="531.8" width="14.60" height="102.00" fill="#a72d2d" fill-opacity="0.5"/>
<rect x="112.00" y="531.8" width="14.60" height="102.00" fill="#a72d2d" fill-opacity="0.5"/>
<rect x="148.80" y="531.8" width="14.50" height="102.00" fill="#a72d2d" fill-opacity="0.5"/>
<rect x="268.80" y="531.8" width="13.10" height="102.00" fill="#a72d2d" fill-opacity="0.5"/>
<rect x="309.10" y="531.8" width="12.90" height="102.00" fill="#a72d2d" fill-opacity="0.5"/>
<line x1="81.6" y1="639.7" x2="81.6" y2="526" stroke="#000" stroke-width="2.5" stroke-dasharray="2.5 4.17"/>
<line x1="91.9" y1="639.7" x2="91.9" y2="526" stroke="#000" stroke-width="2.5" stroke-dasharray="2.5 4.17"/>
<line x1="94.2" y1="639.7" x2="94.2" y2="526" stroke="#000" stroke-width="2.5" stroke-dasharray="2.5 4.17"/>
<line x1="105.9" y1="639.7" x2="105.9" y2="526" stroke="#000" stroke-width="2.5" stroke-dasharray="2.5 4.17"/>
<line x1="113" y1="639.7" x2="113" y2="526" stroke="#000" stroke-width="2.5" stroke-dasharray="2.5 4.17"/>
<line x1="124.8" y1="639.7" x2="124.8" y2="526" stroke="#000" stroke-width="2.5" stroke-dasharray="2.5 4.17"/>
<line x1="127.1" y1="639.7" x2="127.1" y2="526" stroke="#000" stroke-width="2.5" stroke-dasharray="2.5 4.17"/>
<line x1="138.9" y1="639.7" x2="138.9" y2="526" stroke="#000" stroke-width="2.5" stroke-dasharray="2.5 4.17"/>
<line x1="149.9" y1="639.7" x2="149.9" y2="526" stroke="#000" stroke-width="2.5" stroke-dasharray="2.5 4.17"/>
<line x1="162.3" y1="639.7" x2="162.3" y2="526" stroke="#000" stroke-width="2.5" stroke-dasharray="2.5 4.17"/>
<line x1="173.9" y1="639.7" x2="173.9" y2="526" stroke="#000" stroke-width="2.5" stroke-dasharray="2.5 4.17"/>
<line x1="197.3" y1="639.7" x2="197.3" y2="526" stroke="#000" stroke-width="2.5" stroke-dasharray="2.5 4.17"/>
<line x1="210.7" y1="639.7" x2="210.7" y2="526" stroke="#000" stroke-width="2.5" stroke-dasharray="2.5 4.17"/>
<line x1="213" y1="639.7" x2="213" y2="526" stroke="#000" stroke-width="2.5" stroke-dasharray="2.5 4.17"/>
<line x1="224.2" y1="639.7" x2="224.2" y2="526" stroke="#000" stroke-width="2.5" stroke-dasharray="2.5 4.17"/>
<line x1="232.4" y1="639.7" x2="232.4" y2="526" stroke="#000" stroke-width="2.5" stroke-dasharray="2.5 4.17"/>
<line x1="246.1" y1="639.7" x2="246.1" y2="526" stroke="#000" stroke-width="2.5" stroke-dasharray="2.5 4.17"/>
<line x1="259.3" y1="639.7" x2="259.3" y2="526" stroke="#000" stroke-width="2.5" stroke-dasharray="2.5 4.17"/>
<line x1="270.2" y1="639.7" x2="270.2" y2="526" stroke="#000" stroke-width="2.5" stroke-dasharray="2.5 4.17"/>
<line x1="280.6" y1="639.7" x2="280.6" y2="526" stroke="#000" stroke-width="2.5" stroke-dasharray="2.5 4.17"/>
<line x1="286.3" y1="639.7" x2="286.3" y2="526" stroke="#000" stroke-width="2.5" stroke-dasharray="2.5 4.17"/>
<line x1="299.6" y1="639.7" x2="299.6" y2="526" stroke="#000" stroke-width="2.5" stroke-dasharray="2.5 4.17"/>
<line x1="310.6" y1="639.7" x2="310.6" y2="526" stroke="#000" stroke-width="2.5" stroke-dasharray="2.5 4.17"/>
<line x1="320.2" y1="639.7" x2="320.2" y2="526" stroke="#000" stroke-width="2.5" stroke-dasharray="2.5 4.17"/>
<line x1="332.5" y1="639.7" x2="332.5" y2="526" stroke="#000" stroke-width="2.5" stroke-dasharray="2.5 4.17"/>
<line x1="345" y1="639.7" x2="345" y2="526" stroke="#000" stroke-width="2.5" stroke-dasharray="2.5 4.17"/>
<line x1="347.5" y1="639.7" x2="347.5" y2="526" stroke="#000" stroke-width="2.5" stroke-dasharray="2.5 4.17"/>
<line x1="359.5" y1="639.7" x2="359.5" y2="526" stroke="#000" stroke-width="2.5" stroke-dasharray="2.5 4.17"/>
<line x1="364.1" y1="639.7" x2="364.1" y2="526" stroke="#000" stroke-width="2.5" stroke-dasharray="2.5 4.17"/>
<line x1="375.7" y1="639.7" x2="375.7" y2="526" stroke="#000" stroke-width="2.5" stroke-dasharray="2.5 4.17"/>
<rect x="42.7" y="526" width="362.30" height="113.70" fill="none" stroke="#000" stroke-width="1.9"/>
</g>
<g>
<rect x="67.30" y="692.2" width="11.10" height="99.80" fill="#e63223" fill-opacity="0.5"/>
<rect x="76.80" y="692.2" width="9.20" height="99.80" fill="#2947a9" fill-opacity="0.5"/>
<rect x="90.40" y="692.2" width="11.00" height="99.80" fill="#2947a9" fill-opacity="0.5"/>
<rect x="103.00" y="692.2" width="13.50" height="99.80" fill="#2947a9" fill-opacity="0.5"/>
<rect x="115.70" y="692.2" width="9.50" height="99.80" fill="#e63223" fill-opacity="0.5"/>
<rect x="124.00" y="692.2" width="12.40" height="99.80" fill="#2947a9" fill-opacity="0.5"/>
<rect x="137.00" y="692.2" width="9.70" height="99.80" fill="#2947a9" fill-opacity="0.5"/>
<rect x="149.30" y="692.2" width="11.70" height="99.80" fill="#e63223" fill-opacity="0.5"/>
<rect x="162.20" y="692.2" width="11.90" height="99.80" fill="#870bad" fill-opacity="0.5"/>
<rect x="196.10" y="692.2" width="12.10" height="99.80" fill="#f5a119" fill-opacity="0.5"/>
<rect x="210.30" y="692.2" width="13.90" height="99.80" fill="#870bad" fill-opacity="0.5"/>
<rect x="232.30" y="692.2" width="12.70" height="99.80" fill="#f5a119" fill-opacity="0.5"/>
<rect x="245.80" y="692.2" width="13.00" height="99.80" fill="#f5a119" fill-opacity="0.5"/>
<rect x="258.30" y="692.2" width="9.80" height="99.80" fill="#2947a9" fill-opacity="0.5"/>
<rect x="276.50" y="692.2" width="8.80" height="99.80" fill="#f5a119" fill-opacity="0.5"/>
<rect x="293.00" y="692.2" width="10.90" height="99.80" fill="#e63223" fill-opacity="0.5"/>
<rect x="319.30" y="692.2" width="12.70" height="99.80" fill="#f5a119" fill-opacity="0.5"/>
<rect x="330.80" y="692.2" width="11.00" height="99.80" fill="#2947a9" fill-opacity="0.5"/>
<rect x="344.60" y="692.2" width="10.10" height="99.80" fill="#2947a9" fill-opacity="0.5"/>
<rect x="359.30" y="692.2" width="10.60" height="99.80" fill="#e63223" fill-opacity="0.5"/>
<rect x="375.80" y="692.2" width="12.30" height="99.80" fill="#f5a119" fill-opacity="0.5"/>
<polyline points="57.22,753.73 63.14,709.36 66.27,739.40 71.63,693.07 74.36,738.22 76.58,771.98 77.19,771.79 83.71,768.75 90.43,783.76 92.45,771.98 96.49,769.43 103.97,788.08 105.29,770.71 109.33,767.47 115.60,791.62 119.44,692.38 123.28,771.10 124.79,770.71 130.86,767.47 137.63,785.04 139.65,770.71 142.99,766.78 149.46,789.26 154.51,693.07 157.85,736.75 160.47,780.43 162.70,765.11 163.61,759.81 167.45,756.67 169.77,755.10 172.20,745.88 173.41,755.30 175.23,754.51 177.05,755.79 178.87,754.61 180.99,755.30 184.13,693.07 185.54,736.26 187.56,714.66 188.47,756.18 190.39,754.91 192.31,756.08 194.23,754.81 196.26,755.69 197.97,742.15 200.20,734.78 202.22,733.90 206.57,743.13 209.70,732.43 211.82,738.22 213.03,773.56 214.45,759.42 218.49,754.02 220.82,744.01 223.65,726.24 224.36,755.59 226.28,754.51 228.20,755.79 230.12,754.61 232.04,755.20 233.35,742.05 236.08,735.47 238.71,739.40 240.12,734.78 242.15,740.67 244.17,734.19 246.09,738.22 247.50,740.67 250.84,735.47 253.57,735.47 255.59,740.67 258.22,734.19 259.83,772.67 260.95,770.71 264.28,768.75 266.30,774.64 269.64,788.97 270.95,791.22 272.97,719.77 275.50,689.83 279.14,736.75 282.27,753.73 289.95,709.36 291.98,718.49 297.64,691.79 300.67,736.75 302.39,722.42 304.00,756.18 305.82,754.91 307.54,756.18 309.26,754.91 310.78,755.69 312.80,742.05 316.54,708.09 319.57,739.40 321.59,738.12 324.32,732.82 326.34,739.40 328.36,734.19 330.39,738.12 331.09,732.82 332.61,771.98 333.72,770.71 337.76,766.78 341.20,778.56 345.14,791.62 347.17,770.71 351.21,767.47 355.35,775.91 359.90,788.28 363.64,692.38 366.47,737.24 368.29,713.29 368.90,756.18 370.72,754.71 372.54,755.99 374.36,754.61 376.07,755.20 377.49,739.40 380.82,737.43 383.55,734.19 386.28,743.32 387.60,736.75 390.33,733.51 390.93,736.16" fill="none" stroke="#000" stroke-opacity="0.46" stroke-width="3.15" stroke-linejoin="round" stroke-linecap="butt"/>
<line x1="67.85" y1="798.60" x2="67.85" y2="686" stroke="#808080" stroke-width="2.5" stroke-dasharray="9.1 4.35"/>
<line x1="76.3" y1="798.60" x2="76.3" y2="686" stroke="#808080" stroke-width="2.5" stroke-dasharray="9.1 4.35"/>
<line x1="91.15" y1="798.60" x2="91.15" y2="686" stroke="#808080" stroke-width="2.5" stroke-dasharray="9.1 4.35"/>
<line x1="104.8" y1="798.60" x2="104.8" y2="686" stroke="#808080" stroke-width="2.5" stroke-dasharray="9.1 4.35"/>
<line x1="116.1" y1="798.60" x2="116.1" y2="686" stroke="#808080" stroke-width="2.5" stroke-dasharray="9.1 4.35"/>
<line x1="123.85" y1="798.60" x2="123.85" y2="686" stroke="#808080" stroke-width="2.5" stroke-dasharray="9.1 4.35"/>
<line x1="138.4" y1="798.60" x2="138.4" y2="686" stroke="#808080" stroke-width="2.5" stroke-dasharray="9.1 4.35"/>
<line x1="150.5" y1="798.60" x2="150.5" y2="686" stroke="#808080" stroke-width="2.5" stroke-dasharray="9.1 4.35"/>
<line x1="160.6" y1="798.60" x2="160.6" y2="686" stroke="#808080" stroke-width="2.5" stroke-dasharray="9.1 4.35"/>
<line x1="173.1" y1="798.60" x2="173.1" y2="686" stroke="#808080" stroke-width="2.5" stroke-dasharray="9.1 4.35"/>
<line x1="180.7" y1="798.60" x2="180.7" y2="686" stroke="#808080" stroke-width="2.5" stroke-dasharray="9.1 4.35"/>
<line x1="188" y1="798.60" x2="188" y2="686" stroke="#808080" stroke-width="2.5" stroke-dasharray="9.1 4.35"/>
<line x1="197.3" y1="798.60" x2="197.3" y2="686" stroke="#808080" stroke-width="2.5" stroke-dasharray="9.1 4.35"/>
<line x1="212.3" y1="798.60" x2="212.3" y2="686" stroke="#808080" stroke-width="2.5" stroke-dasharray="9.1 4.35"/>
<line x1="223.5" y1="798.60" x2="223.5" y2="686" stroke="#808080" stroke-width="2.5" stroke-dasharray="9.1 4.35"/>
<line x1="233.5" y1="798.60" x2="233.5" y2="686" stroke="#808080" stroke-width="2.5" stroke-dasharray="9.1 4.35"/>
<line x1="246.1" y1="798.60" x2="246.1" y2="686" stroke="#808080" stroke-width="2.5" stroke-dasharray="9.1 4.35"/>
<line x1="259.4" y1="798.60" x2="259.4" y2="686" stroke="#808080" stroke-width="2.5" stroke-dasharray="9.1 4.35"/>
<line x1="271.2" y1="798.60" x2="271.2" y2="686" stroke="#808080" stroke-width="2.5" stroke-dasharray="9.1 4.35"/>
<line x1="281.6" y1="798.60" x2="281.6" y2="686" stroke="#808080" stroke-width="2.5" stroke-dasharray="9.1 4.35"/>
<line x1="292.8" y1="798.60" x2="292.8" y2="686" stroke="#808080" stroke-width="2.5" stroke-dasharray="9.1 4.35"/>
<line x1="303" y1="798.60" x2="303" y2="686" stroke="#808080" stroke-width="2.5" stroke-dasharray="9.1 4.35"/>
<line x1="311.3" y1="798.60" x2="311.3" y2="686" stroke="#808080" stroke-width="2.5" stroke-dasharray="9.1 4.35"/>
<line x1="320.65" y1="798.60" x2="320.65" y2="686" stroke="#808080" stroke-width="2.5" stroke-dasharray="9.1 4.35"/>
<line x1="332.3" y1="798.60" x2="332.3" y2="686" stroke="#808080" stroke-width="2.5" stroke-dasharray="9.1 4.35"/>
<line x1="345.95" y1="798.60" x2="345.95" y2="686" stroke="#808080" stroke-width="2.5" stroke-dasharray="9.1 4.35"/>
<line x1="360.9" y1="798.60" x2="360.9" y2="686" stroke="#808080" stroke-width="2.5" stroke-dasharray="9.1 4.35"/>
<line x1="368.6" y1="798.60" x2="368.6" y2="686" stroke="#808080" stroke-width="2.5" stroke-dasharray="9.1 4.35"/>
<rect x="56.80" y="692.2" width="11.70" height="99.80" fill="#a72d2d" fill-opacity="0.5"/>
<rect x="284.00" y="692.2" width="10.30" height="99.80" fill="#a72d2d" fill-opacity="0.5"/>
<line x1="58.5" y1="797.8" x2="58.5" y2="686" stroke="#000" stroke-width="2.5" stroke-dasharray="2.5 4.17"/>
<line x1="67.8" y1="797.8" x2="67.8" y2="686" stroke="#000" stroke-width="2.5" stroke-dasharray="2.5 4.17"/>
<line x1="77.2" y1="797.8" x2="77.2" y2="686" stroke="#000" stroke-width="2.5" stroke-dasharray="2.5 4.17"/>
<line x1="84.6" y1="797.8" x2="84.6" y2="686" stroke="#000" stroke-width="2.5" stroke-dasharray="2.5 4.17"/>
<line x1="91.6" y1="797.8" x2="91.6" y2="686" stroke="#000" stroke-width="2.5" stroke-dasharray="2.5 4.17"/>
<line x1="99.5" y1="797.8" x2="99.5" y2="686" stroke="#000" stroke-width="2.5" stroke-dasharray="2.5 4.17"/>
<line x1="105.1" y1="797.8" x2="105.1" y2="686" stroke="#000" stroke-width="2.5" stroke-dasharray="2.5 4.17"/>
<line x1="113.6" y1="797.8" x2="113.6" y2="686" stroke="#000" stroke-width="2.5" stroke-dasharray="2.5 4.17"/>
<line x1="116.8" y1="797.8" x2="116.8" y2="686" stroke="#000" stroke-width="2.5" stroke-dasharray="2.5 4.17"/>
<line x1="125.1" y1="797.8" x2="125.1" y2="686" stroke="#000" stroke-width="2.5" stroke-dasharray="2.5 4.17"/>
<line x1="134.6" y1="797.8" x2="134.6" y2="686" stroke="#000" stroke-width="2.5" stroke-dasharray="2.5 4.17"/>
<line x1="137.9" y1="797.8" x2="137.9" y2="686" stroke="#000" stroke-width="2.5" stroke-dasharray="2.5 4.17"/>
<line x1="145" y1="797.8" x2="145" y2="686" stroke="#000" stroke-width="2.5" stroke-dasharray="2.5 4.17"/>
<line x1="150.5" y1="797.8" x2="150.5" y2="686" stroke="#000" stroke-width="2.5" stroke-dasharray="2.5 4.17"/>
<line x1="159.7" y1="797.8" x2="159.7" y2="686" stroke="#000" stroke-width="2.5" stroke-dasharray="2.5 4.17"/>
<line x1="163.2" y1="797.8" x2="163.2" y2="686" stroke="#000" stroke-width="2.5" stroke-dasharray="2.5 4.17"/>
<line x1="173" y1="797.8" x2="173" y2="686" stroke="#000" stroke-width="2.5" stroke-dasharray="2.5 4.17"/>
<line x1="197.5" y1="797.8" x2="197.5" y2="686" stroke="#000" stroke-width="2.5" stroke-dasharray="2.5 4.17"/>
<line x1="206.8" y1="797.8" x2="206.8" y2="686" stroke="#000" stroke-width="2.5" stroke-dasharray="2.5 4.17"/>
<line x1="211.7" y1="797.8" x2="211.7" y2="686" stroke="#000" stroke-width="2.5" stroke-dasharray="2.5 4.17"/>
<line x1="223.2" y1="797.8" x2="223.2" y2="686" stroke="#000" stroke-width="2.5" stroke-dasharray="2.5 4.17"/>
<line x1="233.4" y1="797.8" x2="233.4" y2="686" stroke="#000" stroke-width="2.5" stroke-dasharray="2.5 4.17"/>
<line x1="243.1" y1="797.8" x2="243.1" y2="686" stroke="#000" stroke-width="2.5" stroke-dasharray="2.5 4.17"/>
<line x1="247.1" y1="797.8" x2="247.1" y2="686" stroke="#000" stroke-width="2.5" stroke-dasharray="2.5 4.17"/>
<line x1="256.6" y1="797.8" x2="256.6" y2="686" stroke="#000" stroke-width="2.5" stroke-dasharray="2.5 4.17"/>
<line x1="259.7" y1="797.8" x2="259.7" y2="686" stroke="#000" stroke-width="2.5" stroke-dasharray="2.5 4.17"/>
<line x1="266.7" y1="797.8" x2="266.7" y2="686" stroke="#000" stroke-width="2.5" stroke-dasharray="2.5 4.17"/>
<line x1="277.9" y1="797.8" x2="277.9" y2="686" stroke="#000" stroke-width="2.5" stroke-dasharray="2.5 4.17"/>
<line x1="285" y1="797.8" x2="285" y2="686" stroke="#000" stroke-width="2.5" stroke-dasharray="2.5 4.17"/>
<line x1="293.8" y1="797.8" x2="293.8" y2="686" stroke="#000" stroke-width="2.5" stroke-dasharray="2.5 4.17"/>
<line x1="302.8" y1="797.8" x2="302.8" y2="686" stroke="#000" stroke-width="2.5" stroke-dasharray="2.5 4.17"/>
<line x1="320.7" y1="797.8" x2="320.7" y2="686" stroke="#000" stroke-width="2.5" stroke-dasharray="2.5 4.17"/>
<line x1="331.3" y1="797.8" x2="331.3" y2="686" stroke="#000" stroke-width="2.5" stroke-dasharray="2.5 4.17"/>
<line x1="340.4" y1="797.8" x2="340.4" y2="686" stroke="#000" stroke-width="2.5" stroke-dasharray="2.5 4.17"/>
<line x1="346" y1="797.8" x2="346" y2="686" stroke="#000" stroke-width="2.5" stroke-dasharray="2.5 4.17"/>
<line x1="353.8" y1="797.8" x2="353.8" y2="686" stroke="#000" stroke-width="2.5" stroke-dasharray="2.5 4.17"/>
<line x1="360.7" y1="797.8" x2="360.7" y2="686" stroke="#000" stroke-width="2.5" stroke-dasharray="2.5 4.17"/>
<line x1="368.8" y1="797.8" x2="368.8" y2="686" stroke="#000" stroke-width="2.5" stroke-dasharray="2.5 4.17"/>
<line x1="377.2" y1="797.8" x2="377.2" y2="686" stroke="#000" stroke-width="2.5" stroke-dasharray="2.5 4.17"/>
<line x1="386.7" y1="797.8" x2="386.7" y2="686" stroke="#000" stroke-width="2.5" stroke-dasharray="2.5 4.17"/>
<rect x="41" y="686" width="365.70" height="111.80" fill="none" stroke="#000" stroke-width="1.9"/>
</g>
<text x="172.4" y="39.6" font-size="25">Ground Truth</text>
<text x="139.9" y="196.5" font-size="25">MotionMapper only</text>
<text x="129.2" y="356.5" font-size="25">Keypoint-MoSeq only</text>
<text x="121" y="512.9" font-size="25">MotionMapper +</text>
<text x="300.2" y="512.9" font-size="25">TASC</text>
<text x="110.1" y="671.3" font-size="25">Keypoint-MoSeq +</text>
<text x="311.8" y="671.3" font-size="25">TASC</text>
<text x="203" y="826.2" font-size="25">Time</text>
<text transform="translate(18.3 476.4) rotate(-90)" font-size="25">Amplitude</text>
<text x="8.7" y="17.5" font-size="25">A</text>
<text x="488.8" y="17.5" font-size="25">B</text>
<g id="B1">
<g fill="#e0301f"><ellipse cx="541.4" cy="109.9" rx="4.5" ry="4.2"/><ellipse cx="541.8" cy="113.9" rx="4.5" ry="4.2"/><ellipse cx="542.3" cy="117.9" rx="4.5" ry="4.2"/><ellipse cx="541.8" cy="121.6" rx="4.5" ry="4.2"/><ellipse cx="540.9" cy="125.6" rx="4.5" ry="4.2"/><ellipse cx="540.4" cy="129.1" rx="4.5" ry="4.2"/><ellipse cx="539.7" cy="133.3" rx="4.5" ry="4.2"/><ellipse cx="540.4" cy="131.4" rx="4.5" ry="4.2"/><ellipse cx="541.4" cy="115.1" rx="4.5" ry="4.2"/></g>
<g fill="#e884bb"><ellipse cx="574.5" cy="93.6" rx="4.5" ry="4.2"/><ellipse cx="575.9" cy="90.6" rx="4.5" ry="4.2"/><ellipse cx="577.6" cy="87.5" rx="4.5" ry="4.2"/><ellipse cx="579.2" cy="84.2" rx="4.5" ry="4.2"/><ellipse cx="581.1" cy="81.2" rx="4.5" ry="4.2"/><ellipse cx="583.4" cy="78.9" rx="4.5" ry="4.2"/><ellipse cx="586.2" cy="77.7" rx="4.5" ry="4.2"/><ellipse cx="589.2" cy="78.4" rx="4.5" ry="4.2"/><ellipse cx="592.0" cy="80.0" rx="4.5" ry="4.2"/><ellipse cx="594.4" cy="81.9" rx="4.5" ry="4.2"/><ellipse cx="596.2" cy="83.3" rx="4.5" ry="4.2"/><ellipse cx="576.9" cy="91.7" rx="4.5" ry="4.2"/><ellipse cx="582.2" cy="82.4" rx="4.5" ry="4.2"/></g>
<g fill="#f4831c"><ellipse cx="627.8" cy="77.7" rx="4.5" ry="4.2"/><ellipse cx="626.6" cy="81.2" rx="4.5" ry="4.2"/><ellipse cx="624.3" cy="84.2" rx="4.5" ry="4.2"/><ellipse cx="628.9" cy="83.5" rx="4.5" ry="4.2"/><ellipse cx="632.5" cy="82.4" rx="4.5" ry="4.2"/><ellipse cx="637.1" cy="82.8" rx="4.5" ry="4.2"/><ellipse cx="640.6" cy="82.8" rx="4.5" ry="4.2"/><ellipse cx="644.1" cy="82.8" rx="4.5" ry="4.2"/><ellipse cx="627.8" cy="87.0" rx="4.5" ry="4.2"/><ellipse cx="631.3" cy="88.9" rx="4.5" ry="4.2"/><ellipse cx="625.4" cy="87.0" rx="4.5" ry="4.2"/><ellipse cx="630.1" cy="80.0" rx="4.5" ry="4.2"/><ellipse cx="633.6" cy="85.2" rx="4.5" ry="4.2"/></g>
<g fill="#a2552b"><ellipse cx="598.1" cy="118.3" rx="4.5" ry="4.2"/><ellipse cx="598.1" cy="121.2" rx="4.5" ry="4.2"/></g>
<g fill="#3f82bd"><ellipse cx="661.2" cy="129.1" rx="4.5" ry="4.2"/><ellipse cx="664.0" cy="127.2" rx="4.5" ry="4.2"/><ellipse cx="667.5" cy="126.3" rx="4.5" ry="4.2"/><ellipse cx="671.0" cy="127.2" rx="4.5" ry="4.2"/><ellipse cx="673.3" cy="128.6" rx="4.5" ry="4.2"/><ellipse cx="665.2" cy="130.3" rx="4.5" ry="4.2"/><ellipse cx="668.7" cy="131.9" rx="4.5" ry="4.2"/><ellipse cx="671.0" cy="131.4" rx="4.5" ry="4.2"/><ellipse cx="667.5" cy="129.1" rx="4.5" ry="4.2"/><ellipse cx="669.4" cy="133.3" rx="4.5" ry="4.2"/></g>
</g>
<rect x="529.1" y="48.4" width="151.60" height="116.00" fill="none" stroke="#000" stroke-width="1.9"/>
<line x1="528.2" y1="58.60" x2="525.70" y2="58.60" stroke="#000" stroke-width="1.9"/>
<text x="516.8" y="66.10" font-size="18" text-anchor="end">4</text>
<line x1="528.2" y1="109.50" x2="525.70" y2="109.50" stroke="#000" stroke-width="1.9"/>
<text x="516.8" y="115.20" font-size="18" text-anchor="end">0</text>
<line x1="528.2" y1="160.90" x2="525.70" y2="160.90" stroke="#000" stroke-width="1.9"/>
<text x="516.8" y="163.60" font-size="18" text-anchor="end">−4</text>
<g id="B2">
<g fill="#3f82bd"><ellipse cx="606.8" cy="242.6" rx="5.0" ry="4.25"/><ellipse cx="586.2" cy="253.1" rx="5.0" ry="4.25"/><ellipse cx="643.0" cy="264.1" rx="5.0" ry="4.25"/><ellipse cx="645.3" cy="264.8" rx="5.0" ry="4.25"/><ellipse cx="652.3" cy="252.4" rx="5.0" ry="4.25"/><ellipse cx="646.5" cy="296.8" rx="5.0" ry="4.25"/><ellipse cx="643.7" cy="299.6" rx="5.0" ry="4.25"/><ellipse cx="654.6" cy="288.6" rx="5.0" ry="4.25"/><ellipse cx="656.3" cy="291.6" rx="5.0" ry="4.25"/><ellipse cx="611.4" cy="308.4" rx="5.0" ry="4.25"/><ellipse cx="613.8" cy="317.3" rx="5.0" ry="4.25"/><ellipse cx="665.2" cy="279.2" rx="5.0" ry="4.25"/><ellipse cx="672.6" cy="278.1" rx="5.0" ry="4.25"/><ellipse cx="597.9" cy="289.8" rx="5.0" ry="4.25"/><ellipse cx="610.3" cy="260.6" rx="5.0" ry="4.25"/><ellipse cx="659.3" cy="262.2" rx="5.0" ry="4.25"/><ellipse cx="631.3" cy="285.1" rx="5.0" ry="4.25"/></g>
<g fill="#e0301f"><ellipse cx="574.2" cy="245.5" rx="5.0" ry="4.25"/><ellipse cx="568.5" cy="262.1" rx="5.0" ry="4.25"/><ellipse cx="544.7" cy="270.1" rx="5.0" ry="4.25"/><ellipse cx="562.9" cy="288.1" rx="5.0" ry="4.25"/><ellipse cx="573.0" cy="295.0" rx="5.0" ry="4.25"/><ellipse cx="584.5" cy="257.8" rx="5.0" ry="4.25"/><ellipse cx="557.2" cy="287.5" rx="5.0" ry="4.25"/><ellipse cx="550.8" cy="274.3" rx="5.0" ry="4.25"/><ellipse cx="573.6" cy="262.5" rx="5.0" ry="4.25"/><ellipse cx="575.7" cy="265.6" rx="5.0" ry="4.25"/><ellipse cx="557.4" cy="274.5" rx="5.0" ry="4.25"/><ellipse cx="564.4" cy="258.3" rx="5.0" ry="4.25"/><ellipse cx="581.3" cy="280.9" rx="5.0" ry="4.25"/><ellipse cx="567.9" cy="290.9" rx="5.0" ry="4.25"/><ellipse cx="578.1" cy="257.7" rx="5.0" ry="4.25"/><ellipse cx="562.6" cy="284.2" rx="5.0" ry="4.25"/><ellipse cx="549.4" cy="269.0" rx="5.0" ry="4.25"/><ellipse cx="543.8" cy="279.2" rx="5.0" ry="4.25"/><ellipse cx="579.9" cy="273.8" rx="5.0" ry="4.25"/><ellipse cx="576.4" cy="275.0" rx="5.0" ry="4.25"/><ellipse cx="570.7" cy="267.2" rx="5.0" ry="4.25"/><ellipse cx="565.4" cy="278.9" rx="5.0" ry="4.25"/><ellipse cx="561.0" cy="279.2" rx="5.0" ry="4.25"/><ellipse cx="544.8" cy="284.8" rx="5.0" ry="4.25"/><ellipse cx="555.7" cy="264.9" rx="5.0" ry="4.25"/><ellipse cx="559.7" cy="291.4" rx="5.0" ry="4.25"/><ellipse cx="589.5" cy="249.9" rx="5.0" ry="4.25"/><ellipse cx="553.4" cy="268.8" rx="5.0" ry="4.25"/><ellipse cx="571.1" cy="256.3" rx="5.0" ry="4.25"/><ellipse cx="561.3" cy="264.0" rx="5.0" ry="4.25"/><ellipse cx="547.0" cy="277.3" rx="5.0" ry="4.25"/><ellipse cx="546.9" cy="262.0" rx="5.0" ry="4.25"/><ellipse cx="572.4" cy="249.8" rx="5.0" ry="4.25"/><ellipse cx="554.4" cy="261.0" rx="5.0" ry="4.25"/><ellipse cx="565.0" cy="268.8" rx="5.0" ry="4.25"/><ellipse cx="558.9" cy="256.4" rx="5.0" ry="4.25"/><ellipse cx="583.1" cy="250.5" rx="5.0" ry="4.25"/><ellipse cx="568.1" cy="249.7" rx="5.0" ry="4.25"/><ellipse cx="568.1" cy="296.7" rx="5.0" ry="4.25"/><ellipse cx="550.1" cy="285.0" rx="5.0" ry="4.25"/><ellipse cx="568.3" cy="285.4" rx="5.0" ry="4.25"/><ellipse cx="554.7" cy="280.6" rx="5.0" ry="4.25"/><ellipse cx="583.6" cy="268.5" rx="5.0" ry="4.25"/><ellipse cx="574.3" cy="286.6" rx="5.0" ry="4.25"/><ellipse cx="579.1" cy="268.4" rx="5.0" ry="4.25"/><ellipse cx="577.9" cy="251.0" rx="5.0" ry="4.25"/><ellipse cx="559.4" cy="267.3" rx="5.0" ry="4.25"/><ellipse cx="562.7" cy="293.3" rx="5.0" ry="4.25"/><ellipse cx="563.7" cy="251.8" rx="5.0" ry="4.25"/><ellipse cx="558.0" cy="270.7" rx="5.0" ry="4.25"/><ellipse cx="547.1" cy="273.1" rx="5.0" ry="4.25"/><ellipse cx="554.2" cy="257.1" rx="5.0" ry="4.25"/><ellipse cx="576.6" cy="291.0" rx="5.0" ry="4.25"/><ellipse cx="588.7" cy="256.1" rx="5.0" ry="4.25"/><ellipse cx="580.8" cy="292.1" rx="5.0" ry="4.25"/><ellipse cx="577.7" cy="242.5" rx="5.0" ry="4.25"/><ellipse cx="572.9" cy="270.4" rx="5.0" ry="4.25"/><ellipse cx="570.2" cy="281.0" rx="5.0" ry="4.25"/><ellipse cx="578.3" cy="287.3" rx="5.0" ry="4.25"/><ellipse cx="581.9" cy="288.1" rx="5.0" ry="4.25"/><ellipse cx="575.8" cy="280.6" rx="5.0" ry="4.25"/><ellipse cx="569.6" cy="276.9" rx="5.0" ry="4.25"/><ellipse cx="586.3" cy="252.7" rx="5.0" ry="4.25"/><ellipse cx="579.3" cy="277.8" rx="5.0" ry="4.25"/><ellipse cx="574.5" cy="258.4" rx="5.0" ry="4.25"/><ellipse cx="566.6" cy="253.8" rx="5.0" ry="4.25"/><ellipse cx="579.1" cy="264.7" rx="5.0" ry="4.25"/><ellipse cx="560.6" cy="260.5" rx="5.0" ry="4.25"/><ellipse cx="564.6" cy="272.6" rx="5.0" ry="4.25"/><ellipse cx="582.6" cy="254.5" rx="5.0" ry="4.25"/><ellipse cx="588.2" cy="260.0" rx="5.0" ry="4.25"/><ellipse cx="580.7" cy="245.9" rx="5.0" ry="4.25"/><ellipse cx="574.2" cy="252.9" rx="5.0" ry="4.25"/><ellipse cx="557.4" cy="252.9" rx="5.0" ry="4.25"/><ellipse cx="550.0" cy="280.7" rx="5.0" ry="4.25"/><ellipse cx="549.1" cy="257.4" rx="5.0" ry="4.25"/><ellipse cx="546.4" cy="266.4" rx="5.0" ry="4.25"/><ellipse cx="562.0" cy="254.8" rx="5.0" ry="4.25"/><ellipse cx="558.5" cy="283.8" rx="5.0" ry="4.25"/><ellipse cx="584.7" cy="246.5" rx="5.0" ry="4.25"/><ellipse cx="583.3" cy="261.5" rx="5.0" ry="4.25"/><ellipse cx="542.0" cy="282.2" rx="5.0" ry="4.25"/><ellipse cx="573.5" cy="277.4" rx="5.0" ry="4.25"/><ellipse cx="560.1" cy="250.6" rx="5.0" ry="4.25"/><ellipse cx="542.7" cy="275.3" rx="5.0" ry="4.25"/><ellipse cx="583.6" cy="275.9" rx="5.0" ry="4.25"/><ellipse cx="578.6" cy="283.4" rx="5.0" ry="4.25"/><ellipse cx="570.8" cy="246.4" rx="5.0" ry="4.25"/><ellipse cx="577.4" cy="261.4" rx="5.0" ry="4.25"/><ellipse cx="578.5" cy="295.0" rx="5.0" ry="4.25"/><ellipse cx="571.8" cy="290.2" rx="5.0" ry="4.25"/><ellipse cx="553.5" cy="286.2" rx="5.0" ry="4.25"/><ellipse cx="568.9" cy="272.4" rx="5.0" ry="4.25"/><ellipse cx="553.5" cy="277.0" rx="5.0" ry="4.25"/><ellipse cx="551.9" cy="265.3" rx="5.0" ry="4.25"/><ellipse cx="561.0" cy="274.1" rx="5.0" ry="4.25"/><ellipse cx="565.2" cy="264.0" rx="5.0" ry="4.25"/><ellipse cx="564.6" cy="248.3" rx="5.0" ry="4.25"/><ellipse cx="565.8" cy="282.7" rx="5.0" ry="4.25"/><ellipse cx="582.7" cy="265.0" rx="5.0" ry="4.25"/><ellipse cx="568.1" cy="258.4" rx="5.0" ry="4.25"/><ellipse cx="573.2" cy="283.1" rx="5.0" ry="4.25"/><ellipse cx="550.4" cy="261.0" rx="5.0" ry="4.25"/><ellipse cx="583.3" cy="272.1" rx="5.0" ry="4.25"/><ellipse cx="557.5" cy="278.3" rx="5.0" ry="4.25"/><ellipse cx="576.8" cy="271.1" rx="5.0" ry="4.25"/><ellipse cx="582.1" cy="284.6" rx="5.0" ry="4.25"/></g>
<g fill="#e0301f"><ellipse cx="572.9" cy="230.7" rx="5.0" ry="4.25"/><ellipse cx="600.9" cy="220.8" rx="5.0" ry="4.25"/><ellipse cx="608.6" cy="217.8" rx="5.0" ry="4.25"/><ellipse cx="604.9" cy="236.5" rx="5.0" ry="4.25"/><ellipse cx="627.8" cy="243.0" rx="5.0" ry="4.25"/><ellipse cx="621.2" cy="245.4" rx="5.0" ry="4.25"/><ellipse cx="575.2" cy="303.8" rx="5.0" ry="4.25"/><ellipse cx="581.1" cy="307.3" rx="5.0" ry="4.25"/><ellipse cx="586.2" cy="313.1" rx="5.0" ry="4.25"/><ellipse cx="604.4" cy="322.5" rx="5.0" ry="4.25"/><ellipse cx="602.1" cy="319.7" rx="5.0" ry="4.25"/><ellipse cx="568.2" cy="300.3" rx="5.0" ry="4.25"/><ellipse cx="581.1" cy="237.9" rx="5.0" ry="4.25"/><ellipse cx="541.4" cy="282.7" rx="5.0" ry="4.25"/><ellipse cx="548.4" cy="252.4" rx="5.0" ry="4.25"/><ellipse cx="560.0" cy="246.5" rx="5.0" ry="4.25"/></g>
<g fill="#e884bb"><ellipse cx="593.4" cy="250.7" rx="5.0" ry="4.25"/><ellipse cx="581.1" cy="260.6" rx="5.0" ry="4.25"/><ellipse cx="586.2" cy="262.9" rx="5.0" ry="4.25"/><ellipse cx="591.6" cy="264.1" rx="5.0" ry="4.25"/><ellipse cx="595.1" cy="269.2" rx="5.0" ry="4.25"/><ellipse cx="600.2" cy="268.3" rx="5.0" ry="4.25"/><ellipse cx="604.4" cy="266.9" rx="5.0" ry="4.25"/><ellipse cx="602.1" cy="273.9" rx="5.0" ry="4.25"/><ellipse cx="597.4" cy="278.1" rx="5.0" ry="4.25"/><ellipse cx="592.7" cy="281.6" rx="5.0" ry="4.25"/><ellipse cx="589.2" cy="283.2" rx="5.0" ry="4.25"/><ellipse cx="605.6" cy="275.7" rx="5.0" ry="4.25"/><ellipse cx="586.2" cy="278.1" rx="5.0" ry="4.25"/><ellipse cx="659.3" cy="275.7" rx="5.0" ry="4.25"/><ellipse cx="657.7" cy="279.2" rx="5.0" ry="4.25"/><ellipse cx="606.8" cy="311.9" rx="5.0" ry="4.25"/><ellipse cx="590.9" cy="304.2" rx="5.0" ry="4.25"/><ellipse cx="592.5" cy="250.0" rx="5.0" ry="4.25"/><ellipse cx="581.3" cy="259.4" rx="5.0" ry="4.25"/><ellipse cx="596.2" cy="270.6" rx="5.0" ry="4.25"/><ellipse cx="603.7" cy="268.7" rx="5.0" ry="4.25"/><ellipse cx="592.5" cy="279.9" rx="5.0" ry="4.25"/><ellipse cx="600.0" cy="279.9" rx="5.0" ry="4.25"/><ellipse cx="609.3" cy="266.9" rx="5.0" ry="4.25"/></g>
<g fill="#f4831c"><ellipse cx="572.9" cy="264.1" rx="5.0" ry="4.25"/><ellipse cx="575.2" cy="268.3" rx="5.0" ry="4.25"/><ellipse cx="581.1" cy="271.5" rx="5.0" ry="4.25"/><ellipse cx="576.9" cy="275.7" rx="5.0" ry="4.25"/><ellipse cx="575.2" cy="279.2" rx="5.0" ry="4.25"/><ellipse cx="580.6" cy="278.1" rx="5.0" ry="4.25"/><ellipse cx="586.2" cy="290.2" rx="5.0" ry="4.25"/><ellipse cx="591.6" cy="291.6" rx="5.0" ry="4.25"/><ellipse cx="595.1" cy="296.3" rx="5.0" ry="4.25"/><ellipse cx="600.2" cy="299.6" rx="5.0" ry="4.25"/><ellipse cx="603.3" cy="297.9" rx="5.0" ry="4.25"/><ellipse cx="595.1" cy="301.4" rx="5.0" ry="4.25"/><ellipse cx="598.6" cy="306.1" rx="5.0" ry="4.25"/><ellipse cx="595.1" cy="310.8" rx="5.0" ry="4.25"/><ellipse cx="599.7" cy="311.9" rx="5.0" ry="4.25"/><ellipse cx="597.4" cy="317.3" rx="5.0" ry="4.25"/><ellipse cx="575.2" cy="301.4" rx="5.0" ry="4.25"/><ellipse cx="576.9" cy="309.6" rx="5.0" ry="4.25"/><ellipse cx="574.1" cy="317.3" rx="5.0" ry="4.25"/><ellipse cx="616.1" cy="315.9" rx="5.0" ry="4.25"/><ellipse cx="633.6" cy="308.0" rx="5.0" ry="4.25"/><ellipse cx="589.9" cy="296.8" rx="5.0" ry="4.25"/></g>
<g fill="#e0301f"><ellipse cx="580.6" cy="283.2" rx="5.0" ry="4.25"/><ellipse cx="579.2" cy="269.2" rx="5.0" ry="4.25"/><ellipse cx="583.4" cy="309.6" rx="5.0" ry="4.25"/><ellipse cx="589.2" cy="310.8" rx="5.0" ry="4.25"/><ellipse cx="628.2" cy="240.7" rx="5.0" ry="4.25"/><ellipse cx="634.1" cy="242.6" rx="5.0" ry="4.25"/><ellipse cx="625.0" cy="244.4" rx="5.0" ry="4.25"/></g>
<g fill="#a2552b"><ellipse cx="625.5" cy="283.2" rx="5.0" ry="4.25"/><ellipse cx="633.6" cy="291.2" rx="5.0" ry="4.25"/><ellipse cx="648.4" cy="260.6" rx="5.0" ry="4.25"/><ellipse cx="620.4" cy="248.1" rx="5.0" ry="4.25"/><ellipse cx="665.6" cy="275.7" rx="5.0" ry="4.25"/><ellipse cx="655.6" cy="267.5" rx="5.0" ry="4.25"/><ellipse cx="637.0" cy="261.8" rx="5.0" ry="4.25"/><ellipse cx="639.7" cy="275.1" rx="5.0" ry="4.25"/><ellipse cx="617.4" cy="275.4" rx="5.0" ry="4.25"/><ellipse cx="610.6" cy="263.0" rx="5.0" ry="4.25"/><ellipse cx="647.8" cy="254.8" rx="5.0" ry="4.25"/><ellipse cx="638.6" cy="253.8" rx="5.0" ry="4.25"/><ellipse cx="626.2" cy="290.6" rx="5.0" ry="4.25"/><ellipse cx="630.1" cy="250.7" rx="5.0" ry="4.25"/><ellipse cx="663.6" cy="282.3" rx="5.0" ry="4.25"/><ellipse cx="635.6" cy="295.4" rx="5.0" ry="4.25"/><ellipse cx="640.8" cy="281.3" rx="5.0" ry="4.25"/><ellipse cx="634.6" cy="266.0" rx="5.0" ry="4.25"/><ellipse cx="617.3" cy="251.5" rx="5.0" ry="4.25"/><ellipse cx="609.0" cy="287.7" rx="5.0" ry="4.25"/><ellipse cx="659.2" cy="267.3" rx="5.0" ry="4.25"/><ellipse cx="624.4" cy="275.2" rx="5.0" ry="4.25"/><ellipse cx="619.7" cy="260.6" rx="5.0" ry="4.25"/><ellipse cx="627.7" cy="272.1" rx="5.0" ry="4.25"/><ellipse cx="606.3" cy="270.5" rx="5.0" ry="4.25"/><ellipse cx="612.8" cy="278.5" rx="5.0" ry="4.25"/><ellipse cx="636.3" cy="249.5" rx="5.0" ry="4.25"/><ellipse cx="632.4" cy="277.6" rx="5.0" ry="4.25"/><ellipse cx="644.2" cy="256.9" rx="5.0" ry="4.25"/><ellipse cx="638.4" cy="287.3" rx="5.0" ry="4.25"/><ellipse cx="634.2" cy="285.0" rx="5.0" ry="4.25"/><ellipse cx="643.6" cy="267.5" rx="5.0" ry="4.25"/><ellipse cx="633.7" cy="270.5" rx="5.0" ry="4.25"/><ellipse cx="629.5" cy="262.4" rx="5.0" ry="4.25"/><ellipse cx="617.9" cy="281.9" rx="5.0" ry="4.25"/><ellipse cx="647.4" cy="268.3" rx="5.0" ry="4.25"/><ellipse cx="606.2" cy="266.3" rx="5.0" ry="4.25"/><ellipse cx="661.4" cy="273.2" rx="5.0" ry="4.25"/><ellipse cx="619.9" cy="300.9" rx="5.0" ry="4.25"/><ellipse cx="628.6" cy="258.8" rx="5.0" ry="4.25"/><ellipse cx="621.5" cy="253.9" rx="5.0" ry="4.25"/><ellipse cx="620.6" cy="294.5" rx="5.0" ry="4.25"/><ellipse cx="625.4" cy="299.4" rx="5.0" ry="4.25"/><ellipse cx="629.2" cy="268.0" rx="5.0" ry="4.25"/><ellipse cx="626.2" cy="256.0" rx="5.0" ry="4.25"/><ellipse cx="617.2" cy="287.0" rx="5.0" ry="4.25"/><ellipse cx="667.2" cy="268.2" rx="5.0" ry="4.25"/><ellipse cx="650.5" cy="271.7" rx="5.0" ry="4.25"/><ellipse cx="630.0" cy="286.5" rx="5.0" ry="4.25"/><ellipse cx="617.7" cy="257.6" rx="5.0" ry="4.25"/><ellipse cx="643.2" cy="251.7" rx="5.0" ry="4.25"/><ellipse cx="613.4" cy="267.1" rx="5.0" ry="4.25"/><ellipse cx="646.4" cy="264.6" rx="5.0" ry="4.25"/><ellipse cx="624.8" cy="250.6" rx="5.0" ry="4.25"/><ellipse cx="616.7" cy="295.4" rx="5.0" ry="4.25"/><ellipse cx="609.6" cy="282.3" rx="5.0" ry="4.25"/><ellipse cx="616.9" cy="268.1" rx="5.0" ry="4.25"/><ellipse cx="632.7" cy="255.7" rx="5.0" ry="4.25"/><ellipse cx="641.5" cy="290.6" rx="5.0" ry="4.25"/><ellipse cx="612.0" cy="258.5" rx="5.0" ry="4.25"/><ellipse cx="619.9" cy="270.5" rx="5.0" ry="4.25"/><ellipse cx="622.0" cy="286.6" rx="5.0" ry="4.25"/><ellipse cx="624.6" cy="267.3" rx="5.0" ry="4.25"/><ellipse cx="607.0" cy="274.3" rx="5.0" ry="4.25"/><ellipse cx="653.3" cy="262.6" rx="5.0" ry="4.25"/><ellipse cx="639.5" cy="269.6" rx="5.0" ry="4.25"/><ellipse cx="615.8" cy="261.1" rx="5.0" ry="4.25"/><ellipse cx="645.5" cy="287.1" rx="5.0" ry="4.25"/><ellipse cx="642.4" cy="260.4" rx="5.0" ry="4.25"/><ellipse cx="624.5" cy="263.1" rx="5.0" ry="4.25"/><ellipse cx="658.3" cy="271.0" rx="5.0" ry="4.25"/><ellipse cx="631.6" cy="299.5" rx="5.0" ry="4.25"/><ellipse cx="658.3" cy="282.9" rx="5.0" ry="4.25"/><ellipse cx="632.5" cy="281.6" rx="5.0" ry="4.25"/><ellipse cx="629.1" cy="280.3" rx="5.0" ry="4.25"/><ellipse cx="637.8" cy="291.0" rx="5.0" ry="4.25"/><ellipse cx="621.7" cy="278.2" rx="5.0" ry="4.25"/><ellipse cx="611.3" cy="275.1" rx="5.0" ry="4.25"/><ellipse cx="619.5" cy="264.3" rx="5.0" ry="4.25"/><ellipse cx="620.8" cy="274.2" rx="5.0" ry="4.25"/><ellipse cx="607.7" cy="277.8" rx="5.0" ry="4.25"/><ellipse cx="613.0" cy="284.6" rx="5.0" ry="4.25"/><ellipse cx="651.7" cy="267.0" rx="5.0" ry="4.25"/><ellipse cx="668.1" cy="272.6" rx="5.0" ry="4.25"/><ellipse cx="629.5" cy="295.6" rx="5.0" ry="4.25"/><ellipse cx="618.4" cy="291.5" rx="5.0" ry="4.25"/><ellipse cx="653.5" cy="284.5" rx="5.0" ry="4.25"/><ellipse cx="614.8" cy="255.0" rx="5.0" ry="4.25"/><ellipse cx="621.4" cy="281.9" rx="5.0" ry="4.25"/><ellipse cx="613.8" cy="272.3" rx="5.0" ry="4.25"/><ellipse cx="638.1" cy="278.6" rx="5.0" ry="4.25"/><ellipse cx="654.3" cy="259.0" rx="5.0" ry="4.25"/><ellipse cx="649.4" cy="287.3" rx="5.0" ry="4.25"/><ellipse cx="631.3" cy="274.2" rx="5.0" ry="4.25"/><ellipse cx="659.0" cy="262.6" rx="5.0" ry="4.25"/><ellipse cx="663.8" cy="269.0" rx="5.0" ry="4.25"/><ellipse cx="613.4" cy="292.4" rx="5.0" ry="4.25"/><ellipse cx="623.8" cy="258.9" rx="5.0" ry="4.25"/><ellipse cx="666.6" cy="279.1" rx="5.0" ry="4.25"/><ellipse cx="654.6" cy="271.6" rx="5.0" ry="4.25"/><ellipse cx="643.6" cy="271.9" rx="5.0" ry="4.25"/><ellipse cx="636.3" cy="273.6" rx="5.0" ry="4.25"/><ellipse cx="625.5" cy="279.1" rx="5.0" ry="4.25"/><ellipse cx="610.8" cy="270.0" rx="5.0" ry="4.25"/><ellipse cx="614.0" cy="288.8" rx="5.0" ry="4.25"/><ellipse cx="636.1" cy="281.9" rx="5.0" ry="4.25"/><ellipse cx="639.4" cy="257.5" rx="5.0" ry="4.25"/><ellipse cx="641.1" cy="264.5" rx="5.0" ry="4.25"/><ellipse cx="634.8" cy="258.7" rx="5.0" ry="4.25"/><ellipse cx="662.0" cy="278.4" rx="5.0" ry="4.25"/><ellipse cx="624.3" cy="294.5" rx="5.0" ry="4.25"/><ellipse cx="622.2" cy="290.7" rx="5.0" ry="4.25"/><ellipse cx="628.0" cy="275.7" rx="5.0" ry="4.25"/><ellipse cx="662.4" cy="265.5" rx="5.0" ry="4.25"/><ellipse cx="644.6" cy="283.5" rx="5.0" ry="4.25"/><ellipse cx="623.8" cy="270.8" rx="5.0" ry="4.25"/></g>
<g fill="#a2552b"><ellipse cx="621.2" cy="242.6" rx="5.0" ry="4.25"/><ellipse cx="593.9" cy="320.1" rx="5.0" ry="4.25"/><ellipse cx="597.9" cy="261.3" rx="5.0" ry="4.25"/><ellipse cx="592.3" cy="275.7" rx="5.0" ry="4.25"/><ellipse cx="602.1" cy="270.6" rx="5.0" ry="4.25"/><ellipse cx="603.3" cy="279.2" rx="5.0" ry="4.25"/><ellipse cx="669.8" cy="264.5" rx="5.0" ry="4.25"/><ellipse cx="665.2" cy="264.1" rx="5.0" ry="4.25"/><ellipse cx="668.0" cy="269.9" rx="5.0" ry="4.25"/><ellipse cx="668.9" cy="283.2" rx="5.0" ry="4.25"/><ellipse cx="641.8" cy="251.2" rx="5.0" ry="4.25"/><ellipse cx="655.8" cy="259.9" rx="5.0" ry="4.25"/><ellipse cx="630.6" cy="301.4" rx="5.0" ry="4.25"/><ellipse cx="618.4" cy="301.4" rx="5.0" ry="4.25"/></g>
<g fill="#e884bb"><ellipse cx="646.9" cy="255.9" rx="5.0" ry="4.25"/><ellipse cx="643.0" cy="254.7" rx="5.0" ry="4.25"/><ellipse cx="638.3" cy="302.6" rx="5.0" ry="4.25"/></g>
<g fill="#3f82bd"><ellipse cx="643.0" cy="264.5" rx="5.0" ry="4.25"/></g>
<g fill="#f4831c"><ellipse cx="667.5" cy="275.7" rx="5.0" ry="4.25"/></g>
</g>
<rect x="529.1" y="212.7" width="151.90" height="114.10" fill="none" stroke="#000" stroke-width="1.9"/>
<line x1="528.2" y1="228.40" x2="524.10" y2="228.40" stroke="#000" stroke-width="1.9"/>
<text x="516.8" y="232.90" font-size="18" text-anchor="end">5</text>
<line x1="528.2" y1="274.50" x2="524.10" y2="274.50" stroke="#000" stroke-width="1.9"/>
<text x="516.8" y="279.00" font-size="18" text-anchor="end">0</text>
<line x1="528.2" y1="320.10" x2="524.10" y2="320.10" stroke="#000" stroke-width="1.9"/>
<text x="516.8" y="325.10" font-size="18" text-anchor="end">−5</text>
<g id="B3">
<g fill="#a2552b"><ellipse cx="545.6" cy="444.9" rx="3.7" ry="4.15"/><ellipse cx="546.5" cy="439.3" rx="3.7" ry="4.15"/><ellipse cx="544.2" cy="433.9" rx="3.7" ry="4.15"/><ellipse cx="539.5" cy="427.6" rx="3.7" ry="4.15"/><ellipse cx="544.9" cy="427.6" rx="3.7" ry="4.15"/><ellipse cx="550.7" cy="428.1" rx="3.7" ry="4.15"/><ellipse cx="547.2" cy="422.2" rx="3.7" ry="4.15"/><ellipse cx="552.6" cy="421.1" rx="3.7" ry="4.15"/><ellipse cx="556.5" cy="419.2" rx="3.7" ry="4.15"/><ellipse cx="548.4" cy="415.2" rx="3.7" ry="4.15"/><ellipse cx="554.2" cy="413.6" rx="3.7" ry="4.15"/><ellipse cx="558.9" cy="412.9" rx="3.7" ry="4.15"/><ellipse cx="551.2" cy="408.2" rx="3.7" ry="4.15"/><ellipse cx="556.5" cy="407.0" rx="3.7" ry="4.15"/><ellipse cx="560.0" cy="403.5" rx="3.7" ry="4.15"/><ellipse cx="554.9" cy="402.4" rx="3.7" ry="4.15"/><ellipse cx="554.2" cy="391.2" rx="3.7" ry="4.15"/><ellipse cx="557.7" cy="396.5" rx="3.7" ry="4.15"/><ellipse cx="563.5" cy="395.8" rx="3.7" ry="4.15"/><ellipse cx="567.5" cy="395.4" rx="3.7" ry="4.15"/><ellipse cx="561.2" cy="400.0" rx="3.7" ry="4.15"/><ellipse cx="542.5" cy="430.9" rx="3.7" ry="4.15"/><ellipse cx="549.5" cy="435.1" rx="3.7" ry="4.15"/><ellipse cx="553.0" cy="426.9" rx="3.7" ry="4.15"/><ellipse cx="558.2" cy="408.9" rx="3.7" ry="4.15"/></g>
<g fill="#f4831c"><ellipse cx="598.6" cy="400.0" rx="3.7" ry="4.15"/><ellipse cx="595.1" cy="407.0" rx="3.7" ry="4.15"/><ellipse cx="589.2" cy="411.7" rx="3.7" ry="4.15"/><ellipse cx="586.9" cy="417.6" rx="3.7" ry="4.15"/><ellipse cx="592.7" cy="415.2" rx="3.7" ry="4.15"/><ellipse cx="599.7" cy="411.7" rx="3.7" ry="4.15"/><ellipse cx="602.1" cy="408.2" rx="3.7" ry="4.15"/><ellipse cx="575.2" cy="421.1" rx="3.7" ry="4.15"/><ellipse cx="579.9" cy="423.4" rx="3.7" ry="4.15"/><ellipse cx="586.2" cy="426.2" rx="3.7" ry="4.15"/><ellipse cx="591.6" cy="424.6" rx="3.7" ry="4.15"/><ellipse cx="583.4" cy="430.4" rx="3.7" ry="4.15"/><ellipse cx="589.2" cy="432.7" rx="3.7" ry="4.15"/><ellipse cx="591.6" cy="439.7" rx="3.7" ry="4.15"/><ellipse cx="595.1" cy="418.7" rx="3.7" ry="4.15"/><ellipse cx="588.1" cy="421.1" rx="3.7" ry="4.15"/><ellipse cx="596.2" cy="403.5" rx="3.7" ry="4.15"/><ellipse cx="603.3" cy="458.4" rx="3.7" ry="4.15"/><ellipse cx="612.6" cy="463.6" rx="3.7" ry="4.15"/><ellipse cx="619.6" cy="472.5" rx="3.7" ry="4.15"/></g>
<g fill="#3f82bd"><ellipse cx="598.2" cy="454.2" rx="3.7" ry="4.15"/><ellipse cx="604.6" cy="444.4" rx="3.7" ry="4.15"/><ellipse cx="590.5" cy="455.1" rx="3.7" ry="4.15"/><ellipse cx="601.7" cy="448.0" rx="3.7" ry="4.15"/><ellipse cx="575.2" cy="445.1" rx="3.7" ry="4.15"/><ellipse cx="576.2" cy="436.9" rx="3.7" ry="4.15"/><ellipse cx="589.6" cy="459.7" rx="3.7" ry="4.15"/><ellipse cx="599.6" cy="472.9" rx="3.7" ry="4.15"/><ellipse cx="565.1" cy="449.8" rx="3.7" ry="4.15"/><ellipse cx="567.8" cy="464.2" rx="3.7" ry="4.15"/><ellipse cx="563.0" cy="461.3" rx="3.7" ry="4.15"/><ellipse cx="582.3" cy="452.8" rx="3.7" ry="4.15"/><ellipse cx="599.4" cy="439.0" rx="3.7" ry="4.15"/><ellipse cx="604.8" cy="452.9" rx="3.7" ry="4.15"/><ellipse cx="572.1" cy="457.2" rx="3.7" ry="4.15"/><ellipse cx="583.0" cy="465.8" rx="3.7" ry="4.15"/><ellipse cx="607.9" cy="447.9" rx="3.7" ry="4.15"/><ellipse cx="594.5" cy="463.0" rx="3.7" ry="4.15"/><ellipse cx="608.6" cy="438.5" rx="3.7" ry="4.15"/><ellipse cx="570.7" cy="447.4" rx="3.7" ry="4.15"/><ellipse cx="585.2" cy="449.0" rx="3.7" ry="4.15"/><ellipse cx="600.4" cy="431.3" rx="3.7" ry="4.15"/><ellipse cx="576.2" cy="466.5" rx="3.7" ry="4.15"/><ellipse cx="580.4" cy="457.3" rx="3.7" ry="4.15"/><ellipse cx="606.7" cy="426.4" rx="3.7" ry="4.15"/><ellipse cx="602.2" cy="461.6" rx="3.7" ry="4.15"/><ellipse cx="594.5" cy="443.1" rx="3.7" ry="4.15"/><ellipse cx="612.4" cy="442.4" rx="3.7" ry="4.15"/><ellipse cx="590.5" cy="450.5" rx="3.7" ry="4.15"/><ellipse cx="565.8" cy="442.9" rx="3.7" ry="4.15"/><ellipse cx="605.3" cy="433.9" rx="3.7" ry="4.15"/><ellipse cx="564.3" cy="455.2" rx="3.7" ry="4.15"/><ellipse cx="590.1" cy="444.2" rx="3.7" ry="4.15"/><ellipse cx="580.9" cy="440.7" rx="3.7" ry="4.15"/><ellipse cx="596.7" cy="434.1" rx="3.7" ry="4.15"/><ellipse cx="596.1" cy="447.5" rx="3.7" ry="4.15"/><ellipse cx="592.8" cy="437.2" rx="3.7" ry="4.15"/><ellipse cx="581.0" cy="446.7" rx="3.7" ry="4.15"/><ellipse cx="593.9" cy="468.9" rx="3.7" ry="4.15"/><ellipse cx="577.1" cy="449.2" rx="3.7" ry="4.15"/><ellipse cx="612.6" cy="449.5" rx="3.7" ry="4.15"/><ellipse cx="588.8" cy="464.8" rx="3.7" ry="4.15"/><ellipse cx="603.5" cy="468.0" rx="3.7" ry="4.15"/><ellipse cx="601.5" cy="426.6" rx="3.7" ry="4.15"/><ellipse cx="575.0" cy="453.2" rx="3.7" ry="4.15"/><ellipse cx="571.1" cy="440.1" rx="3.7" ry="4.15"/><ellipse cx="598.0" cy="459.0" rx="3.7" ry="4.15"/><ellipse cx="585.5" cy="443.7" rx="3.7" ry="4.15"/><ellipse cx="584.0" cy="461.2" rx="3.7" ry="4.15"/><ellipse cx="566.9" cy="459.2" rx="3.7" ry="4.15"/><ellipse cx="575.3" cy="461.7" rx="3.7" ry="4.15"/><ellipse cx="563.4" cy="465.7" rx="3.7" ry="4.15"/><ellipse cx="585.3" cy="456.7" rx="3.7" ry="4.15"/><ellipse cx="579.6" cy="463.0" rx="3.7" ry="4.15"/><ellipse cx="598.1" cy="477.1" rx="3.7" ry="4.15"/><ellipse cx="615.3" cy="445.8" rx="3.7" ry="4.15"/><ellipse cx="594.9" cy="473.3" rx="3.7" ry="4.15"/></g>
<g fill="#3f82bd"><ellipse cx="578.7" cy="414.5" rx="3.7" ry="4.15"/><ellipse cx="586.2" cy="401.2" rx="3.7" ry="4.15"/><ellipse cx="627.8" cy="400.0" rx="3.7" ry="4.15"/><ellipse cx="640.6" cy="400.5" rx="3.7" ry="4.15"/><ellipse cx="556.5" cy="440.2" rx="3.7" ry="4.15"/><ellipse cx="620.8" cy="460.8" rx="3.7" ry="4.15"/><ellipse cx="626.6" cy="454.9" rx="3.7" ry="4.15"/><ellipse cx="611.9" cy="472.0" rx="3.7" ry="4.15"/><ellipse cx="560.5" cy="464.3" rx="3.7" ry="4.15"/><ellipse cx="598.6" cy="479.0" rx="3.7" ry="4.15"/><ellipse cx="571.7" cy="434.6" rx="3.7" ry="4.15"/><ellipse cx="602.6" cy="422.2" rx="3.7" ry="4.15"/><ellipse cx="616.6" cy="442.6" rx="3.7" ry="4.15"/><ellipse cx="605.6" cy="465.9" rx="3.7" ry="4.15"/></g>
<g fill="#f4831c"><ellipse cx="600.9" cy="440.2" rx="3.7" ry="4.15"/></g>
<g fill="#e884bb"><ellipse cx="602.6" cy="403.5" rx="3.7" ry="4.15"/><ellipse cx="609.1" cy="415.2" rx="3.7" ry="4.15"/><ellipse cx="612.6" cy="419.9" rx="3.7" ry="4.15"/><ellipse cx="616.1" cy="423.4" rx="3.7" ry="4.15"/><ellipse cx="619.6" cy="415.2" rx="3.7" ry="4.15"/><ellipse cx="623.1" cy="411.7" rx="3.7" ry="4.15"/><ellipse cx="620.8" cy="421.1" rx="3.7" ry="4.15"/><ellipse cx="617.3" cy="429.2" rx="3.7" ry="4.15"/><ellipse cx="619.6" cy="435.1" rx="3.7" ry="4.15"/><ellipse cx="623.1" cy="439.7" rx="3.7" ry="4.15"/><ellipse cx="625.9" cy="444.9" rx="3.7" ry="4.15"/><ellipse cx="613.8" cy="437.4" rx="3.7" ry="4.15"/><ellipse cx="610.3" cy="450.3" rx="3.7" ry="4.15"/><ellipse cx="607.9" cy="447.9" rx="3.7" ry="4.15"/><ellipse cx="621.9" cy="426.2" rx="3.7" ry="4.15"/><ellipse cx="611.0" cy="417.6" rx="3.7" ry="4.15"/><ellipse cx="607.2" cy="412.9" rx="3.7" ry="4.15"/><ellipse cx="610.3" cy="422.2" rx="3.7" ry="4.15"/><ellipse cx="613.8" cy="426.2" rx="3.7" ry="4.15"/><ellipse cx="614.9" cy="417.6" rx="3.7" ry="4.15"/><ellipse cx="618.0" cy="419.2" rx="3.7" ry="4.15"/><ellipse cx="620.3" cy="429.2" rx="3.7" ry="4.15"/><ellipse cx="615.6" cy="432.7" rx="3.7" ry="4.15"/><ellipse cx="611.9" cy="430.4" rx="3.7" ry="4.15"/><ellipse cx="623.1" cy="417.6" rx="3.7" ry="4.15"/><ellipse cx="618.4" cy="424.6" rx="3.7" ry="4.15"/><ellipse cx="613.3" cy="435.1" rx="3.7" ry="4.15"/><ellipse cx="621.2" cy="437.4" rx="3.7" ry="4.15"/></g>
<g fill="#e0301f"><ellipse cx="630.1" cy="452.5" rx="3.7" ry="4.15"/><ellipse cx="646.9" cy="411.7" rx="3.7" ry="4.15"/><ellipse cx="661.1" cy="404.3" rx="3.7" ry="4.15"/><ellipse cx="675.2" cy="426.7" rx="3.7" ry="4.15"/><ellipse cx="655.3" cy="454.1" rx="3.7" ry="4.15"/><ellipse cx="634.2" cy="455.1" rx="3.7" ry="4.15"/><ellipse cx="643.2" cy="418.1" rx="3.7" ry="4.15"/><ellipse cx="651.6" cy="428.1" rx="3.7" ry="4.15"/><ellipse cx="672.5" cy="434.1" rx="3.7" ry="4.15"/><ellipse cx="673.4" cy="438.3" rx="3.7" ry="4.15"/><ellipse cx="650.1" cy="441.2" rx="3.7" ry="4.15"/><ellipse cx="655.5" cy="408.0" rx="3.7" ry="4.15"/><ellipse cx="671.7" cy="422.7" rx="3.7" ry="4.15"/><ellipse cx="646.4" cy="453.4" rx="3.7" ry="4.15"/><ellipse cx="632.9" cy="434.5" rx="3.7" ry="4.15"/><ellipse cx="659.4" cy="441.3" rx="3.7" ry="4.15"/><ellipse cx="651.4" cy="457.2" rx="3.7" ry="4.15"/><ellipse cx="666.2" cy="437.9" rx="3.7" ry="4.15"/><ellipse cx="635.6" cy="428.4" rx="3.7" ry="4.15"/><ellipse cx="654.3" cy="445.3" rx="3.7" ry="4.15"/><ellipse cx="665.1" cy="431.5" rx="3.7" ry="4.15"/><ellipse cx="660.1" cy="421.8" rx="3.7" ry="4.15"/><ellipse cx="672.3" cy="416.7" rx="3.7" ry="4.15"/><ellipse cx="637.7" cy="440.1" rx="3.7" ry="4.15"/><ellipse cx="647.2" cy="422.8" rx="3.7" ry="4.15"/><ellipse cx="663.6" cy="417.9" rx="3.7" ry="4.15"/><ellipse cx="651.5" cy="401.9" rx="3.7" ry="4.15"/><ellipse cx="645.5" cy="447.3" rx="3.7" ry="4.15"/><ellipse cx="667.1" cy="421.8" rx="3.7" ry="4.15"/><ellipse cx="645.6" cy="400.5" rx="3.7" ry="4.15"/><ellipse cx="632.8" cy="412.5" rx="3.7" ry="4.15"/><ellipse cx="645.7" cy="434.7" rx="3.7" ry="4.15"/><ellipse cx="641.1" cy="452.1" rx="3.7" ry="4.15"/><ellipse cx="633.7" cy="443.6" rx="3.7" ry="4.15"/><ellipse cx="656.7" cy="401.8" rx="3.7" ry="4.15"/><ellipse cx="662.1" cy="399.5" rx="3.7" ry="4.15"/><ellipse cx="638.6" cy="433.2" rx="3.7" ry="4.15"/><ellipse cx="647.5" cy="396.4" rx="3.7" ry="4.15"/><ellipse cx="650.3" cy="407.7" rx="3.7" ry="4.15"/><ellipse cx="655.7" cy="449.6" rx="3.7" ry="4.15"/><ellipse cx="649.7" cy="432.1" rx="3.7" ry="4.15"/><ellipse cx="639.5" cy="444.8" rx="3.7" ry="4.15"/><ellipse cx="671.6" cy="429.3" rx="3.7" ry="4.15"/><ellipse cx="664.2" cy="408.0" rx="3.7" ry="4.15"/><ellipse cx="640.0" cy="409.1" rx="3.7" ry="4.15"/><ellipse cx="652.9" cy="419.5" rx="3.7" ry="4.15"/><ellipse cx="660.7" cy="453.1" rx="3.7" ry="4.15"/><ellipse cx="641.3" cy="425.6" rx="3.7" ry="4.15"/><ellipse cx="636.1" cy="417.1" rx="3.7" ry="4.15"/><ellipse cx="663.2" cy="448.2" rx="3.7" ry="4.15"/><ellipse cx="643.3" cy="439.6" rx="3.7" ry="4.15"/><ellipse cx="650.8" cy="452.9" rx="3.7" ry="4.15"/><ellipse cx="650.0" cy="414.7" rx="3.7" ry="4.15"/><ellipse cx="659.5" cy="395.7" rx="3.7" ry="4.15"/><ellipse cx="661.4" cy="434.8" rx="3.7" ry="4.15"/><ellipse cx="668.7" cy="442.1" rx="3.7" ry="4.15"/><ellipse cx="663.4" cy="443.5" rx="3.7" ry="4.15"/><ellipse cx="668.1" cy="410.5" rx="3.7" ry="4.15"/><ellipse cx="644.1" cy="430.0" rx="3.7" ry="4.15"/><ellipse cx="640.7" cy="414.3" rx="3.7" ry="4.15"/><ellipse cx="638.6" cy="455.7" rx="3.7" ry="4.15"/><ellipse cx="642.7" cy="397.1" rx="3.7" ry="4.15"/><ellipse cx="667.3" cy="426.2" rx="3.7" ry="4.15"/><ellipse cx="661.0" cy="426.0" rx="3.7" ry="4.15"/><ellipse cx="656.7" cy="425.4" rx="3.7" ry="4.15"/><ellipse cx="655.0" cy="439.2" rx="3.7" ry="4.15"/><ellipse cx="644.8" cy="458.8" rx="3.7" ry="4.15"/><ellipse cx="659.0" cy="445.8" rx="3.7" ry="4.15"/><ellipse cx="649.6" cy="445.4" rx="3.7" ry="4.15"/><ellipse cx="659.8" cy="430.4" rx="3.7" ry="4.15"/><ellipse cx="657.3" cy="414.4" rx="3.7" ry="4.15"/><ellipse cx="647.9" cy="418.5" rx="3.7" ry="4.15"/><ellipse cx="644.4" cy="404.7" rx="3.7" ry="4.15"/><ellipse cx="634.9" cy="448.2" rx="3.7" ry="4.15"/><ellipse cx="634.3" cy="422.6" rx="3.7" ry="4.15"/><ellipse cx="654.2" cy="434.8" rx="3.7" ry="4.15"/><ellipse cx="662.6" cy="412.9" rx="3.7" ry="4.15"/><ellipse cx="654.7" cy="396.8" rx="3.7" ry="4.15"/><ellipse cx="630.1" cy="416.1" rx="3.7" ry="4.15"/><ellipse cx="677.8" cy="430.5" rx="3.7" ry="4.15"/><ellipse cx="675.7" cy="420.4" rx="3.7" ry="4.15"/><ellipse cx="629.9" cy="457.7" rx="3.7" ry="4.15"/><ellipse cx="665.7" cy="454.0" rx="3.7" ry="4.15"/><ellipse cx="652.7" cy="411.2" rx="3.7" ry="4.15"/><ellipse cx="668.0" cy="415.1" rx="3.7" ry="4.15"/><ellipse cx="640.9" cy="401.9" rx="3.7" ry="4.15"/><ellipse cx="660.1" cy="408.7" rx="3.7" ry="4.15"/></g>
<g fill="#e0301f"><ellipse cx="623.6" cy="375.5" rx="3.7" ry="4.15"/><ellipse cx="636.0" cy="380.2" rx="3.7" ry="4.15"/><ellipse cx="650.7" cy="385.6" rx="3.7" ry="4.15"/><ellipse cx="599.3" cy="384.9" rx="3.7" ry="4.15"/><ellipse cx="588.5" cy="393.5" rx="3.7" ry="4.15"/><ellipse cx="637.6" cy="467.8" rx="3.7" ry="4.15"/><ellipse cx="636.2" cy="474.8" rx="3.7" ry="4.15"/><ellipse cx="629.6" cy="412.2" rx="3.7" ry="4.15"/><ellipse cx="631.0" cy="415.9" rx="3.7" ry="4.15"/><ellipse cx="632.7" cy="420.1" rx="3.7" ry="4.15"/><ellipse cx="634.3" cy="423.9" rx="3.7" ry="4.15"/><ellipse cx="641.8" cy="396.5" rx="3.7" ry="4.15"/><ellipse cx="660.5" cy="395.4" rx="3.7" ry="4.15"/><ellipse cx="678.7" cy="426.9" rx="3.7" ry="4.15"/><ellipse cx="666.3" cy="454.9" rx="3.7" ry="4.15"/><ellipse cx="627.8" cy="458.0" rx="3.7" ry="4.15"/><ellipse cx="652.3" cy="460.3" rx="3.7" ry="4.15"/></g>
<g fill="#3f82bd"><ellipse cx="644.1" cy="447.2" rx="3.7" ry="4.15"/></g>
</g>
<rect x="529.1" y="371.3" width="154.90" height="113.20" fill="none" stroke="#000" stroke-width="1.9"/>
<line x1="528.2" y1="380.60" x2="525.70" y2="380.60" stroke="#000" stroke-width="1.9"/>
<text x="516.8" y="385.40" font-size="18" text-anchor="end">4</text>
<line x1="528.2" y1="430.70" x2="525.70" y2="430.70" stroke="#000" stroke-width="1.9"/>
<text x="516.8" y="435.20" font-size="18" text-anchor="end">0</text>
<line x1="528.2" y1="480.60" x2="525.70" y2="480.60" stroke="#000" stroke-width="1.9"/>
<text x="516.8" y="484.30" font-size="18" text-anchor="end">−4</text>
<g id="B4">
<g fill="#f4831c"><ellipse cx="540.2" cy="585.6" rx="5.0" ry="4.15"/><ellipse cx="543.6" cy="584.9" rx="5.0" ry="4.15"/><ellipse cx="547.7" cy="584.7" rx="5.0" ry="4.15"/><ellipse cx="541.8" cy="585.2" rx="5.0" ry="4.15"/><ellipse cx="545.8" cy="584.9" rx="5.0" ry="4.15"/></g>
<g fill="#e0301f"><ellipse cx="600.8" cy="567.1" rx="5.0" ry="4.15"/><ellipse cx="595.6" cy="570.2" rx="5.0" ry="4.15"/><ellipse cx="590.0" cy="571.6" rx="5.0" ry="4.15"/><ellipse cx="584.3" cy="573.2" rx="5.0" ry="4.15"/><ellipse cx="580.9" cy="574.8" rx="5.0" ry="4.15"/><ellipse cx="587.7" cy="576.6" rx="5.0" ry="4.15"/><ellipse cx="593.4" cy="575.4" rx="5.0" ry="4.15"/><ellipse cx="590.0" cy="579.3" rx="5.0" ry="4.15"/><ellipse cx="587.0" cy="590.6" rx="5.0" ry="4.15"/><ellipse cx="586.1" cy="571.6" rx="5.0" ry="4.15"/><ellipse cx="592.2" cy="573.2" rx="5.0" ry="4.15"/></g>
<g fill="#a2552b"><ellipse cx="625.0" cy="596.9" rx="5.0" ry="4.15"/><ellipse cx="638.6" cy="574.3" rx="5.0" ry="4.15"/><ellipse cx="634.1" cy="576.6" rx="5.0" ry="4.15"/><ellipse cx="643.1" cy="575.4" rx="5.0" ry="4.15"/><ellipse cx="629.6" cy="580.0" rx="5.0" ry="4.15"/><ellipse cx="626.2" cy="584.5" rx="5.0" ry="4.15"/><ellipse cx="636.4" cy="584.5" rx="5.0" ry="4.15"/><ellipse cx="631.8" cy="585.6" rx="5.0" ry="4.15"/><ellipse cx="644.3" cy="580.0" rx="5.0" ry="4.15"/><ellipse cx="646.5" cy="575.4" rx="5.0" ry="4.15"/><ellipse cx="639.8" cy="580.0" rx="5.0" ry="4.15"/><ellipse cx="652.2" cy="596.9" rx="5.0" ry="4.15"/><ellipse cx="661.3" cy="594.7" rx="5.0" ry="4.15"/><ellipse cx="657.9" cy="599.2" rx="5.0" ry="4.15"/><ellipse cx="663.5" cy="601.5" rx="5.0" ry="4.15"/><ellipse cx="654.5" cy="604.9" rx="5.0" ry="4.15"/><ellipse cx="660.1" cy="606.0" rx="5.0" ry="4.15"/><ellipse cx="665.8" cy="605.5" rx="5.0" ry="4.15"/><ellipse cx="670.3" cy="604.9" rx="5.0" ry="4.15"/><ellipse cx="656.7" cy="601.5" rx="5.0" ry="4.15"/></g>
<g fill="#3f82bd"><ellipse cx="594.0" cy="601.5" rx="5.0" ry="4.15"/><ellipse cx="590.0" cy="606.4" rx="5.0" ry="4.15"/><ellipse cx="597.9" cy="608.9" rx="5.0" ry="4.15"/><ellipse cx="595.6" cy="607.1" rx="5.0" ry="4.15"/><ellipse cx="621.6" cy="593.1" rx="5.0" ry="4.15"/><ellipse cx="614.9" cy="601.5" rx="5.0" ry="4.15"/><ellipse cx="619.4" cy="602.6" rx="5.0" ry="4.15"/><ellipse cx="626.2" cy="604.9" rx="5.0" ry="4.15"/><ellipse cx="620.5" cy="607.8" rx="5.0" ry="4.15"/><ellipse cx="617.1" cy="599.2" rx="5.0" ry="4.15"/><ellipse cx="620.5" cy="598.1" rx="5.0" ry="4.15"/><ellipse cx="626.2" cy="618.4" rx="5.0" ry="4.15"/><ellipse cx="628.4" cy="618.7" rx="5.0" ry="4.15"/></g>
<g fill="#e884bb"><ellipse cx="631.8" cy="540.8" rx="5.0" ry="4.15"/><ellipse cx="635.2" cy="542.6" rx="5.0" ry="4.15"/><ellipse cx="638.6" cy="544.9" rx="5.0" ry="4.15"/><ellipse cx="642.0" cy="547.8" rx="5.0" ry="4.15"/><ellipse cx="644.3" cy="550.5" rx="5.0" ry="4.15"/><ellipse cx="633.4" cy="542.6" rx="5.0" ry="4.15"/><ellipse cx="643.1" cy="564.1" rx="5.0" ry="4.15"/><ellipse cx="647.7" cy="565.3" rx="5.0" ry="4.15"/><ellipse cx="652.2" cy="569.8" rx="5.0" ry="4.15"/><ellipse cx="655.6" cy="574.3" rx="5.0" ry="4.15"/><ellipse cx="660.1" cy="578.8" rx="5.0" ry="4.15"/><ellipse cx="663.5" cy="583.4" rx="5.0" ry="4.15"/><ellipse cx="666.9" cy="587.9" rx="5.0" ry="4.15"/><ellipse cx="670.3" cy="592.4" rx="5.0" ry="4.15"/><ellipse cx="672.6" cy="596.9" rx="5.0" ry="4.15"/><ellipse cx="669.2" cy="599.2" rx="5.0" ry="4.15"/><ellipse cx="646.5" cy="568.7" rx="5.0" ry="4.15"/><ellipse cx="651.1" cy="573.2" rx="5.0" ry="4.15"/><ellipse cx="655.6" cy="580.0" rx="5.0" ry="4.15"/><ellipse cx="659.0" cy="585.6" rx="5.0" ry="4.15"/><ellipse cx="656.7" cy="586.8" rx="5.0" ry="4.15"/><ellipse cx="665.8" cy="592.4" rx="5.0" ry="4.15"/><ellipse cx="648.8" cy="564.1" rx="5.0" ry="4.15"/><ellipse cx="623.9" cy="575.4" rx="5.0" ry="4.15"/><ellipse cx="671.4" cy="600.3" rx="5.0" ry="4.15"/></g>
</g>
<rect x="531.7" y="524.4" width="150.80" height="111.50" fill="none" stroke="#000" stroke-width="1.9"/>
<line x1="530.8000000000001" y1="540.20" x2="527.00" y2="540.20" stroke="#000" stroke-width="1.9"/>
<text x="516.8" y="545.90" font-size="18" text-anchor="end">5</text>
<line x1="530.8000000000001" y1="584.50" x2="527.00" y2="584.50" stroke="#000" stroke-width="1.9"/>
<text x="516.8" y="591.30" font-size="18" text-anchor="end">0</text>
<line x1="530.8000000000001" y1="629.80" x2="527.00" y2="629.80" stroke="#000" stroke-width="1.9"/>
<text x="516.8" y="637.30" font-size="18" text-anchor="end">−5</text>
<g id="B5">
<g fill="#e884bb"><ellipse cx="534.8" cy="743.9" rx="4.2" ry="4.2"/><ellipse cx="535.5" cy="749.7" rx="4.2" ry="4.2"/><ellipse cx="536.7" cy="754.4" rx="4.2" ry="4.2"/><ellipse cx="537.8" cy="759.1" rx="4.2" ry="4.2"/><ellipse cx="539.5" cy="762.6" rx="4.2" ry="4.2"/><ellipse cx="538.5" cy="766.1" rx="4.2" ry="4.2"/><ellipse cx="541.4" cy="768.4" rx="4.2" ry="4.2"/><ellipse cx="540.2" cy="770.8" rx="4.2" ry="4.2"/><ellipse cx="544.9" cy="770.3" rx="4.2" ry="4.2"/><ellipse cx="548.4" cy="771.9" rx="4.2" ry="4.2"/><ellipse cx="550.7" cy="772.6" rx="4.2" ry="4.2"/><ellipse cx="542.5" cy="763.8" rx="4.2" ry="4.2"/><ellipse cx="536.2" cy="746.9" rx="4.2" ry="4.2"/><ellipse cx="534.3" cy="746.2" rx="4.2" ry="4.2"/><ellipse cx="537.1" cy="752.1" rx="4.2" ry="4.2"/><ellipse cx="539.0" cy="756.7" rx="4.2" ry="4.2"/><ellipse cx="540.9" cy="761.4" rx="4.2" ry="4.2"/><ellipse cx="541.8" cy="766.1" rx="4.2" ry="4.2"/><ellipse cx="543.7" cy="768.9" rx="4.2" ry="4.2"/><ellipse cx="546.5" cy="771.2" rx="4.2" ry="4.2"/><ellipse cx="536.2" cy="743.2" rx="4.2" ry="4.2"/></g>
<g fill="#3f82bd"><ellipse cx="565.9" cy="715.9" rx="4.2" ry="4.2"/><ellipse cx="562.4" cy="719.4" rx="4.2" ry="4.2"/><ellipse cx="570.6" cy="719.4" rx="4.2" ry="4.2"/><ellipse cx="560.0" cy="724.0" rx="4.2" ry="4.2"/><ellipse cx="567.0" cy="724.0" rx="4.2" ry="4.2"/><ellipse cx="572.9" cy="725.2" rx="4.2" ry="4.2"/><ellipse cx="563.5" cy="728.7" rx="4.2" ry="4.2"/><ellipse cx="570.6" cy="729.9" rx="4.2" ry="4.2"/><ellipse cx="572.9" cy="731.1" rx="4.2" ry="4.2"/><ellipse cx="568.2" cy="733.4" rx="4.2" ry="4.2"/><ellipse cx="557.7" cy="731.1" rx="4.2" ry="4.2"/><ellipse cx="558.9" cy="735.3" rx="4.2" ry="4.2"/><ellipse cx="554.2" cy="732.2" rx="4.2" ry="4.2"/><ellipse cx="549.5" cy="734.6" rx="4.2" ry="4.2"/><ellipse cx="549.5" cy="739.2" rx="4.2" ry="4.2"/><ellipse cx="548.4" cy="743.9" rx="4.2" ry="4.2"/><ellipse cx="551.9" cy="743.2" rx="4.2" ry="4.2"/><ellipse cx="547.2" cy="745.1" rx="4.2" ry="4.2"/><ellipse cx="565.9" cy="720.5" rx="4.2" ry="4.2"/><ellipse cx="569.4" cy="724.0" rx="4.2" ry="4.2"/><ellipse cx="563.5" cy="724.0" rx="4.2" ry="4.2"/><ellipse cx="571.7" cy="727.6" rx="4.2" ry="4.2"/><ellipse cx="567.0" cy="728.7" rx="4.2" ry="4.2"/><ellipse cx="562.4" cy="727.6" rx="4.2" ry="4.2"/><ellipse cx="565.2" cy="725.2" rx="4.2" ry="4.2"/><ellipse cx="569.4" cy="721.7" rx="4.2" ry="4.2"/><ellipse cx="555.4" cy="733.9" rx="4.2" ry="4.2"/><ellipse cx="550.7" cy="738.1" rx="4.2" ry="4.2"/><ellipse cx="561.7" cy="718.0" rx="4.2" ry="4.2"/><ellipse cx="560.5" cy="722.6" rx="4.2" ry="4.2"/><ellipse cx="569.6" cy="715.9" rx="4.2" ry="4.2"/></g>
<g fill="#a2552b"><ellipse cx="595.1" cy="743.4" rx="4.2" ry="4.2"/><ellipse cx="602.1" cy="750.9" rx="4.2" ry="4.2"/><ellipse cx="599.7" cy="755.6" rx="4.2" ry="4.2"/><ellipse cx="603.3" cy="756.7" rx="4.2" ry="4.2"/><ellipse cx="595.1" cy="759.1" rx="4.2" ry="4.2"/><ellipse cx="598.6" cy="760.3" rx="4.2" ry="4.2"/><ellipse cx="603.3" cy="761.4" rx="4.2" ry="4.2"/><ellipse cx="599.7" cy="764.9" rx="4.2" ry="4.2"/><ellipse cx="602.1" cy="767.3" rx="4.2" ry="4.2"/><ellipse cx="599.3" cy="770.8" rx="4.2" ry="4.2"/><ellipse cx="600.9" cy="753.2" rx="4.2" ry="4.2"/><ellipse cx="597.9" cy="757.9" rx="4.2" ry="4.2"/><ellipse cx="601.6" cy="760.3" rx="4.2" ry="4.2"/><ellipse cx="600.9" cy="763.8" rx="4.2" ry="4.2"/><ellipse cx="597.4" cy="761.4" rx="4.2" ry="4.2"/><ellipse cx="600.2" cy="768.4" rx="4.2" ry="4.2"/></g>
<g fill="#e0301f"><ellipse cx="633.2" cy="720.5" rx="4.2" ry="4.2"/><ellipse cx="627.8" cy="722.9" rx="4.2" ry="4.2"/><ellipse cx="623.1" cy="725.2" rx="4.2" ry="4.2"/><ellipse cx="620.8" cy="726.8" rx="4.2" ry="4.2"/><ellipse cx="628.9" cy="727.6" rx="4.2" ry="4.2"/><ellipse cx="634.8" cy="726.4" rx="4.2" ry="4.2"/><ellipse cx="636.7" cy="730.6" rx="4.2" ry="4.2"/><ellipse cx="625.4" cy="731.1" rx="4.2" ry="4.2"/><ellipse cx="631.3" cy="732.2" rx="4.2" ry="4.2"/><ellipse cx="632.5" cy="735.7" rx="4.2" ry="4.2"/><ellipse cx="620.8" cy="738.1" rx="4.2" ry="4.2"/><ellipse cx="618.4" cy="739.2" rx="4.2" ry="4.2"/><ellipse cx="617.3" cy="742.7" rx="4.2" ry="4.2"/><ellipse cx="624.3" cy="743.2" rx="4.2" ry="4.2"/><ellipse cx="630.1" cy="743.9" rx="4.2" ry="4.2"/><ellipse cx="631.3" cy="747.4" rx="4.2" ry="4.2"/><ellipse cx="626.6" cy="747.4" rx="4.2" ry="4.2"/><ellipse cx="623.1" cy="745.1" rx="4.2" ry="4.2"/><ellipse cx="608.6" cy="742.3" rx="4.2" ry="4.2"/><ellipse cx="610.3" cy="745.1" rx="4.2" ry="4.2"/><ellipse cx="614.9" cy="747.4" rx="4.2" ry="4.2"/><ellipse cx="612.6" cy="745.5" rx="4.2" ry="4.2"/><ellipse cx="620.3" cy="734.6" rx="4.2" ry="4.2"/><ellipse cx="630.1" cy="724.0" rx="4.2" ry="4.2"/><ellipse cx="625.4" cy="727.6" rx="4.2" ry="4.2"/><ellipse cx="633.6" cy="728.7" rx="4.2" ry="4.2"/><ellipse cx="627.8" cy="729.9" rx="4.2" ry="4.2"/><ellipse cx="623.1" cy="728.7" rx="4.2" ry="4.2"/><ellipse cx="618.4" cy="741.6" rx="4.2" ry="4.2"/><ellipse cx="620.8" cy="743.2" rx="4.2" ry="4.2"/><ellipse cx="627.8" cy="745.1" rx="4.2" ry="4.2"/><ellipse cx="628.9" cy="742.3" rx="4.2" ry="4.2"/><ellipse cx="611.9" cy="743.2" rx="4.2" ry="4.2"/><ellipse cx="616.1" cy="745.1" rx="4.2" ry="4.2"/></g>
<g fill="#f4831c"><ellipse cx="653.0" cy="744.6" rx="4.2" ry="4.2"/><ellipse cx="676.4" cy="745.5" rx="4.2" ry="4.2"/><ellipse cx="665.2" cy="748.6" rx="4.2" ry="4.2"/><ellipse cx="662.8" cy="752.1" rx="4.2" ry="4.2"/><ellipse cx="667.5" cy="750.9" rx="4.2" ry="4.2"/><ellipse cx="664.0" cy="755.6" rx="4.2" ry="4.2"/><ellipse cx="661.7" cy="754.4" rx="4.2" ry="4.2"/><ellipse cx="666.3" cy="753.2" rx="4.2" ry="4.2"/><ellipse cx="665.2" cy="750.9" rx="4.2" ry="4.2"/><ellipse cx="663.3" cy="753.2" rx="4.2" ry="4.2"/><ellipse cx="667.0" cy="749.3" rx="4.2" ry="4.2"/><ellipse cx="664.7" cy="754.4" rx="4.2" ry="4.2"/><ellipse cx="668.0" cy="752.1" rx="4.2" ry="4.2"/><ellipse cx="662.4" cy="751.6" rx="4.2" ry="4.2"/></g>
</g>
<rect x="528.2" y="686.1" width="155.50" height="111.90" fill="none" stroke="#000" stroke-width="1.9"/>
<line x1="527.3000000000001" y1="695.40" x2="525.20" y2="695.40" stroke="#000" stroke-width="1.9"/>
<text x="516.8" y="701.90" font-size="18" text-anchor="end">4</text>
<line x1="527.3000000000001" y1="745.30" x2="525.20" y2="745.30" stroke="#000" stroke-width="1.9"/>
<text x="516.8" y="750.20" font-size="18" text-anchor="end">0</text>
<line x1="527.3000000000001" y1="795.10" x2="525.20" y2="795.10" stroke="#000" stroke-width="1.9"/>
<text x="516.8" y="797.10" font-size="18" text-anchor="end">−4</text>
<line x1="552.90" y1="798.9" x2="552.90" y2="802.1" stroke="#000" stroke-width="1.7"/>
<text x="552.30" y="820.4" font-size="18" text-anchor="middle">−5</text>
<line x1="605.10" y1="798.9" x2="605.10" y2="802.1" stroke="#000" stroke-width="1.7"/>
<text x="604.50" y="820.4" font-size="18" text-anchor="middle">0</text>
<line x1="657.30" y1="798.9" x2="657.30" y2="802.1" stroke="#000" stroke-width="1.7"/>
<text x="656.70" y="820.4" font-size="18" text-anchor="middle">5</text>
</svg>
</body></html>
